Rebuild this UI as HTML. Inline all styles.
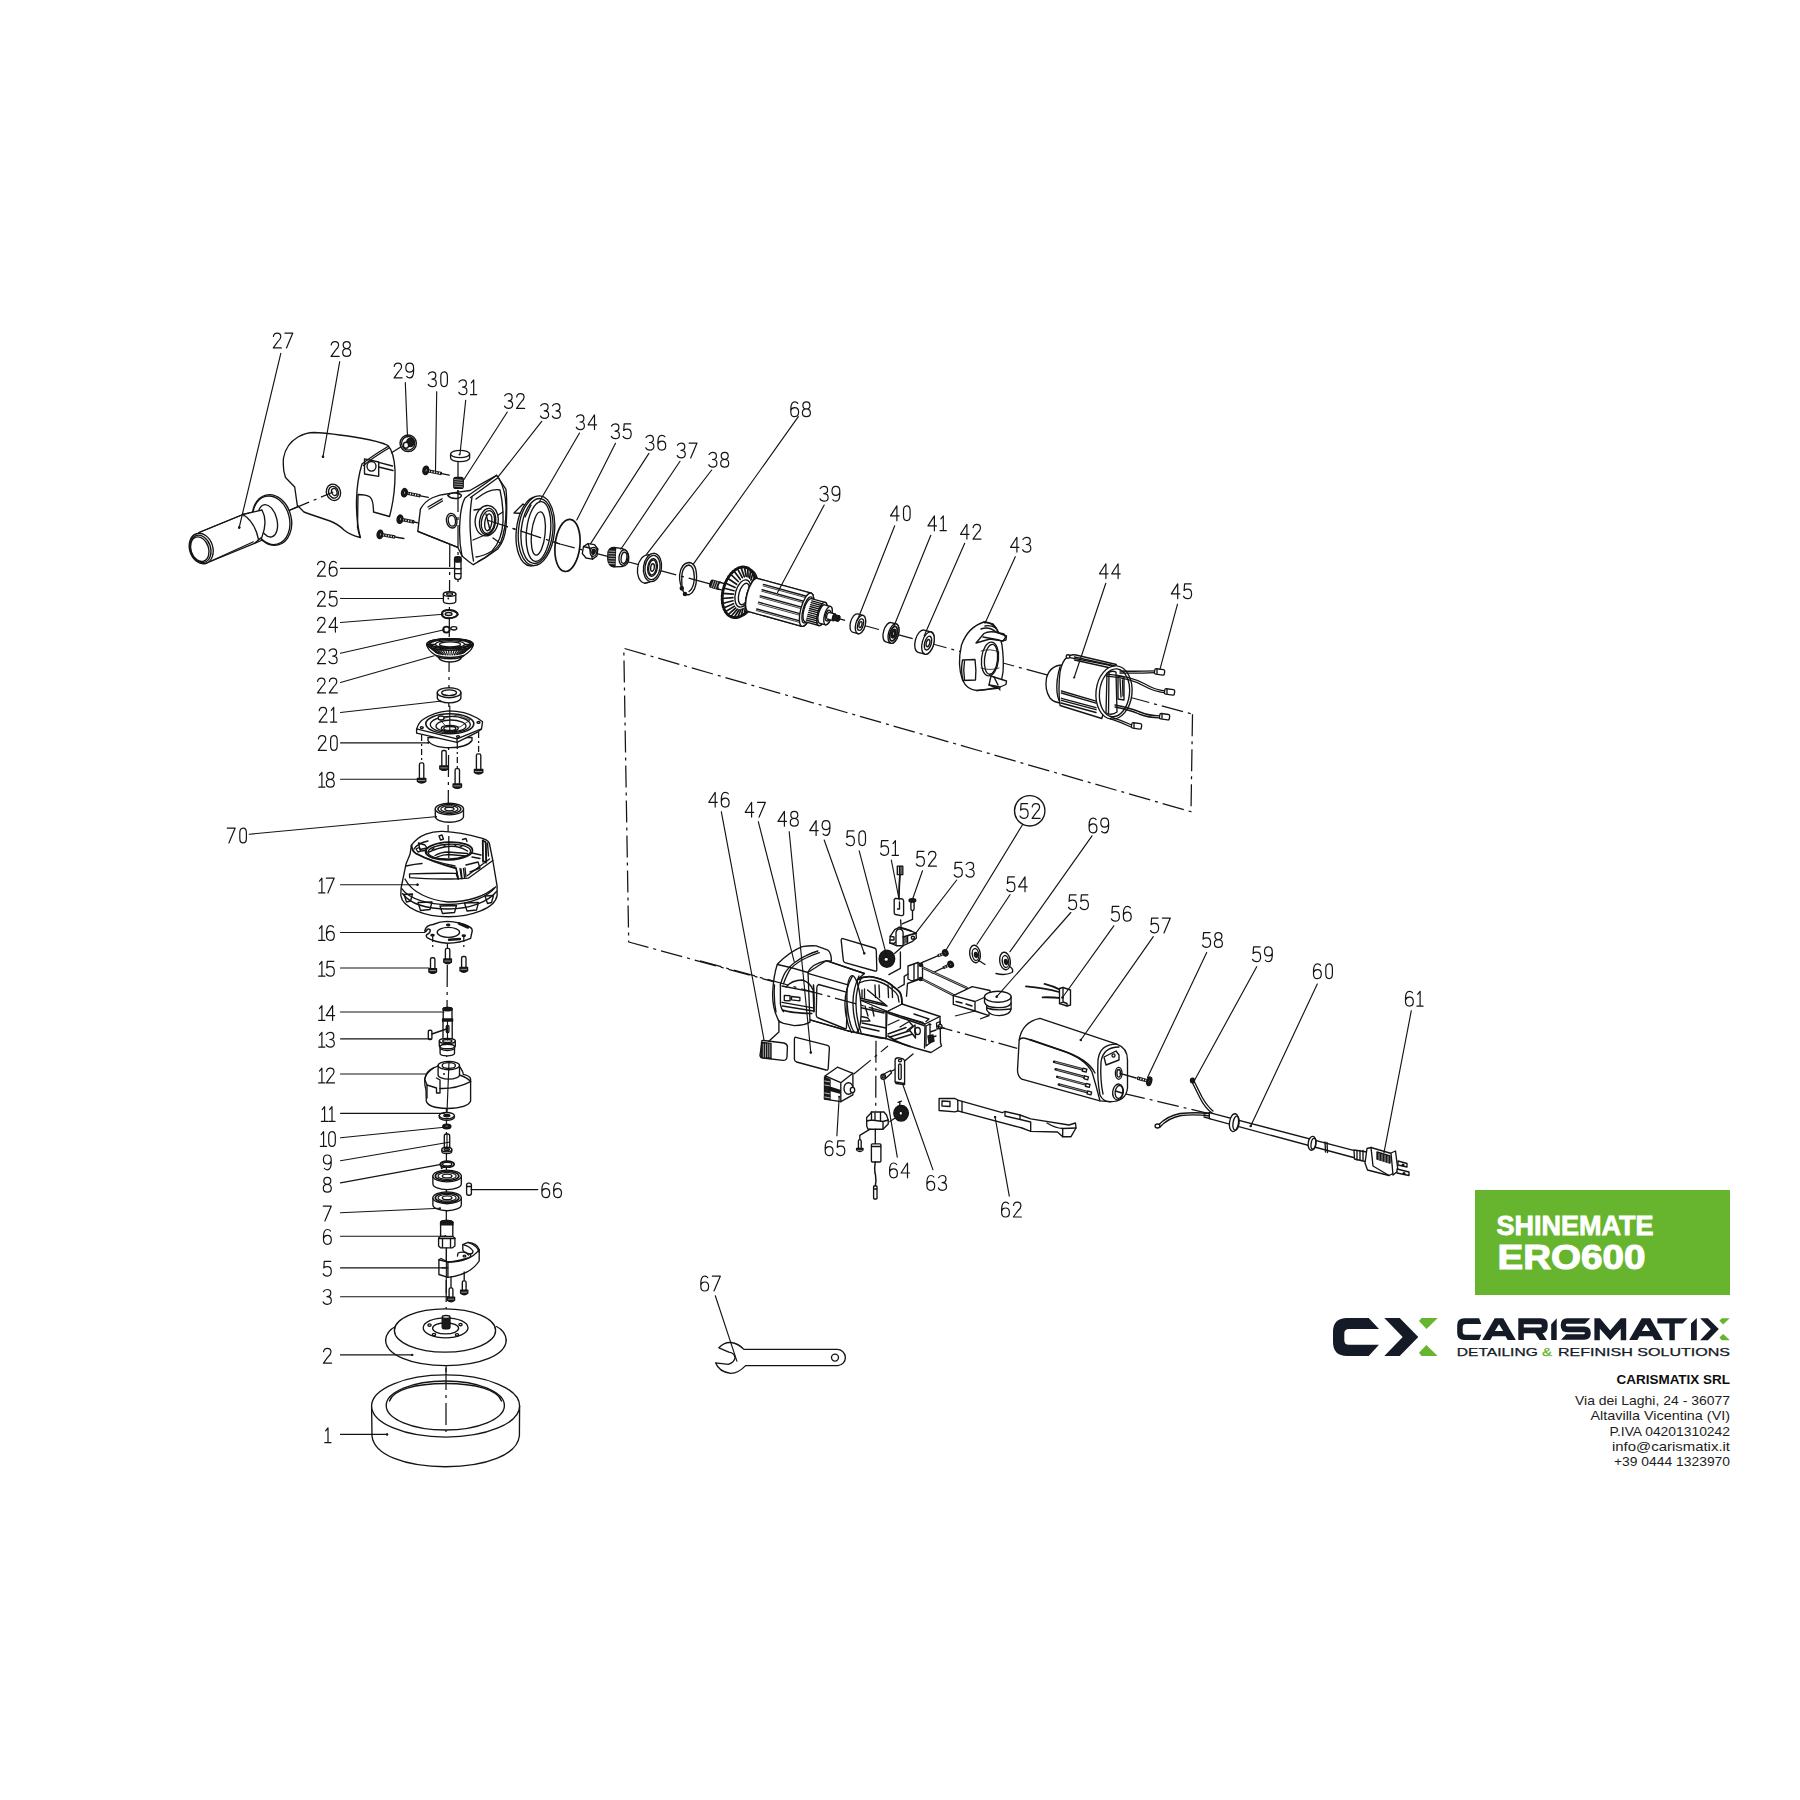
<!DOCTYPE html>
<html><head><meta charset="utf-8"><title>SHINEMATE ERO600 exploded view</title>
<style>
html,body{margin:0;padding:0;background:#fff;}
body{width:1800px;height:1800px;position:relative;overflow:hidden;font-family:"Liberation Sans",sans-serif;}
svg{position:absolute;left:0;top:0;}
.k{fill:#1a1a1a;stroke:none}
#dw line,#dw polyline,#dw path,#dw ellipse,#dw circle,#dw rect{stroke:#141414;stroke-width:1.35;fill:none;stroke-linecap:round;stroke-linejoin:round}
#dw .w{fill:#fff}
#dw .f{fill:#1a1a1a}
#dw .ax{stroke-width:1.25;stroke-dasharray:22 5 3 5;stroke-linecap:butt}
#dw .t{stroke-width:1.15}
#dw circle.k{stroke:none;fill:#1a1a1a}
#lb use{stroke:#141414;stroke-width:1.2;fill:none;stroke-linecap:round;stroke-linejoin:round}
.gb{position:absolute;left:1475px;top:1190px;width:255px;height:105px;background:#67b52e;}
.gb div{position:absolute;left:21px;color:#fff;font-weight:bold;white-space:nowrap;}
.addr{position:absolute;right:70px;top:1372px;text-align:right;color:#222;font-size:13px;line-height:15.3px;}
.addr b{display:block;color:#111;font-size:12.5px;margin-bottom:5px;letter-spacing:0.2px}
</style></head><body>

<svg width="1800" height="1800" viewBox="0 0 1800 1800" xmlns="http://www.w3.org/2000/svg">
<defs>
<path id="g0" d="M4.6,0.6 C2.4,0.6 1.3,2.4 1.3,5.2 V10.8 C1.3,13.6 2.4,15.4 4.6,15.4 C6.8,15.4 7.9,13.6 7.9,10.8 V5.2 C7.9,2.4 6.8,0.6 4.6,0.6 Z"/>
<path id="g1" d="M1.2,3.6 L3.6,0.6 V15.4 M0.4,15.4 H6.6"/>
<path id="g2" d="M0.9,3.9 C1.2,1.8 2.7,0.6 4.6,0.6 C6.8,0.6 8.3,2 8.3,4.3 C8.3,6.4 7.1,7.7 5.1,9.4 L0.8,15.4 H8.8"/>
<path id="g3" d="M0.7,2.8 C1.4,1.3 2.8,0.6 4.5,0.6 C6.8,0.6 8.1,2 8.1,4.2 C8.1,6.5 6.6,7.8 4.2,7.8 M4.2,7.8 C7,7.8 8.6,9.3 8.6,11.6 C8.6,14 7,15.4 4.5,15.4 C2.6,15.4 1.2,14.6 0.5,13"/>
<path id="g4" d="M6.9,15.4 V0.6 L0.5,10.6 H9"/>
<path id="g5" d="M8.1,0.6 H1.6 L1.1,7.2 C2,6.3 3.2,5.9 4.6,5.9 C7.2,5.9 8.6,7.8 8.6,10.6 C8.6,13.6 6.9,15.4 4.5,15.4 C2.6,15.4 1.2,14.6 0.5,13"/>
<path id="g6" d="M7.8,2.1 C7.1,1 6,0.6 4.8,0.6 C2.2,0.6 0.8,3 0.8,7.6 V10.6 C0.8,13.6 2.3,15.4 4.7,15.4 C7.1,15.4 8.6,13.6 8.6,10.8 C8.6,8 7.1,6.4 4.7,6.4 C2.6,6.4 1.3,7.6 0.8,9.4"/>
<path id="g7" d="M0.6,0.6 H8.5 L2.2,15.4"/>
<path id="g8" d="M4.6,7.6 C2.5,7.6 1.1,6.3 1.1,4.1 C1.1,1.9 2.5,0.6 4.6,0.6 C6.7,0.6 8.1,1.9 8.1,4.1 C8.1,6.3 6.7,7.6 4.6,7.6 Z M4.6,7.6 C2.1,7.6 0.6,9.1 0.6,11.5 C0.6,13.9 2.1,15.4 4.6,15.4 C7.1,15.4 8.6,13.9 8.6,11.5 C8.6,9.1 7.1,7.6 4.6,7.6 Z"/>
<path id="g9" d="M1.6,13.9 C2.3,15 3.3,15.4 4.5,15.4 C7.1,15.4 8.5,13 8.5,8.4 V5.4 C8.5,2.4 7,0.6 4.6,0.6 C2.2,0.6 0.7,2.4 0.7,5.2 C0.7,8 2.2,9.6 4.6,9.6 C6.7,9.6 8,8.4 8.5,6.6"/>
</defs>
<g id="dw">
<polyline points="487.0,520.0 560.0,544.0 610.0,557.0 853.0,622.5 1192.5,714.2" class="ax"/>
<polyline points="1192.5,714.2 1191.0,811.7 623.8,648.3 628.7,942.0 1017.2,1048.3" class="ax"/>
<polyline points="1123.3,1093.3 1208.0,1113.3" class="ax"/>
<polyline points="449.8,545.0 446.5,1100.0 446.0,1435.0" class="ax"/>
<polyline points="458.0,455.0 458.0,585.0" class="ax"/>
<polyline points="290.0,510.0 330.0,492.5" class="ax"/>
<path d="M199,532.5 L243,514.5 L258.5,539.5 L205.5,563.5 Z" class="w"/>
<path d="M199,532.5 L243,514.5"/>
<path d="M205.5,563.5 L254.5,543.3"/>
<path d="M243,514.5 Q255,522 258.5,539.5"/>
<path d="M243,514.5 L266,509 Q271,520 266,538.5 L254.5,543.3" class="w"/>
<ellipse cx="272.0" cy="520.0" rx="19.3" ry="25.7" transform="rotate(-14 272.0 520.0)" class="w"/>
<ellipse cx="271.3" cy="520.3" rx="18.2" ry="24.6" transform="rotate(-14 271.3 520.3)"/>
<ellipse cx="267.8" cy="520.8" rx="9.2" ry="16.5" transform="rotate(-14 267.8 520.8)" class="w"/>
<path d="M243,514.5 L262,510 Q268,521 262,537 L254.5,543.3" class="w"/>
<path d="M243,514.5 Q255,522 258.5,539.5"/>
<ellipse cx="201.2" cy="548.5" rx="11.6" ry="15.5" transform="rotate(-18 201.2 548.5)" class="w"/>
<ellipse cx="200.4" cy="548.9" rx="10.2" ry="14.0" transform="rotate(-18 200.4 548.9)"/>
<ellipse cx="199.8" cy="549.2" rx="8.8" ry="12.6" transform="rotate(-18 199.8 549.2)"/>
<circle cx="239.2" cy="527.5" r="1.2" class="k"/>
<path d="M297.3,505.3 L294.7,487 L285.5,477.5 Q282.5,470 283.5,458 Q286,444 298,437 Q306,432.5 314,432.5 Q330,433 360,438 Q380,441.5 388,445.5 Q394,452 395,470 Q395.5,495 389.5,516.5 L373.5,512 Q373.5,500 370,497 Q366,494.5 358,494.5 L357.5,527 Q358.5,533 360.3,537.5 Q350,535 344,530 Q338,524 330,521 Q312,515 304,512 Z" class="w"/>
<path d="M388,446.5 Q372,456 362,464 Q357,480 356.5,500 Q356,520 360.3,537.5"/>
<path d="M389,448 Q373,457.5 363.5,465.5"/>
<path d="M364.5,458.8 L378.7,462 L378.7,476.3 L364.5,474 Z"/>
<ellipse cx="371.5" cy="466.3" rx="4.5" ry="4.8"/>
<line x1="378.7" y1="462.3" x2="392.5" y2="466.0"/>
<line x1="378.7" y1="467.0" x2="393.0" y2="470.5"/>
<ellipse cx="333.5" cy="492.3" rx="7.0" ry="8.3" transform="rotate(-20 333.5 492.3)" class="w"/>
<ellipse cx="333.5" cy="492.3" rx="4.8" ry="6.0" transform="rotate(-20 333.5 492.3)"/>
<ellipse cx="334.3" cy="492.0" rx="2.6" ry="3.6" transform="rotate(-20 334.3 492.0)"/>
<circle cx="323.0" cy="456.7" r="1.2" class="k"/>
<line x1="401.5" y1="446.5" x2="391.5" y2="452.8"/>
<ellipse cx="408.2" cy="443.3" rx="8.2" ry="8.3" class="w"/>
<ellipse cx="408.2" cy="443.3" rx="6.6" ry="6.8"/>
<ellipse cx="410.3" cy="442.5" rx="3.6" ry="4.2" class="f"/>
<ellipse cx="406.0" cy="445.2" rx="2.6" ry="3.0" class="w"/>
<line x1="425.8" y1="470.4" x2="441.8" y2="473.6" style="stroke-width:3.4;stroke:#1a1a1a;stroke-linecap:butt"/>
<line x1="428.7" y1="471.0" x2="440.8" y2="473.4" style="stroke-width:1.6;stroke:#fff;stroke-dasharray:1.1 1.5;stroke-linecap:butt"/>
<line x1="441.8" y1="473.6" x2="449.2" y2="475.1"/>
<ellipse cx="425.8" cy="470.4" rx="2.9" ry="4.2" transform="rotate(11.30993247402037 425.8 470.4)" class="f"/>
<ellipse cx="426.1" cy="470.5" rx="1.0" ry="1.9" transform="rotate(11.30993247402037 426.1 470.5)" class="w"/>
<line x1="404.4" y1="492.7" x2="420.4" y2="495.8" style="stroke-width:3.4;stroke:#1a1a1a;stroke-linecap:butt"/>
<line x1="407.3" y1="493.3" x2="419.4" y2="495.6" style="stroke-width:1.6;stroke:#fff;stroke-dasharray:1.1 1.5;stroke-linecap:butt"/>
<line x1="420.4" y1="495.8" x2="428.3" y2="497.3"/>
<ellipse cx="404.4" cy="492.7" rx="2.9" ry="4.2" transform="rotate(10.965196685137991 404.4 492.7)" class="f"/>
<ellipse cx="404.7" cy="492.8" rx="1.0" ry="1.9" transform="rotate(10.965196685137991 404.7 492.8)" class="w"/>
<line x1="400.0" y1="519.2" x2="414.2" y2="522.0" style="stroke-width:3.4;stroke:#1a1a1a;stroke-linecap:butt"/>
<line x1="402.9" y1="519.8" x2="413.2" y2="521.8" style="stroke-width:1.6;stroke:#fff;stroke-dasharray:1.1 1.5;stroke-linecap:butt"/>
<line x1="414.2" y1="522.0" x2="418.1" y2="522.8"/>
<ellipse cx="400.0" cy="519.2" rx="2.9" ry="4.2" transform="rotate(11.15465973892813 400.0 519.2)" class="f"/>
<ellipse cx="400.3" cy="519.3" rx="1.0" ry="1.9" transform="rotate(11.15465973892813 400.3 519.3)" class="w"/>
<line x1="380.0" y1="534.4" x2="395.0" y2="537.0" style="stroke-width:3.4;stroke:#1a1a1a;stroke-linecap:butt"/>
<line x1="383.0" y1="534.9" x2="394.0" y2="536.8" style="stroke-width:1.6;stroke:#fff;stroke-dasharray:1.1 1.5;stroke-linecap:butt"/>
<line x1="395.0" y1="537.0" x2="403.9" y2="538.5"/>
<ellipse cx="380.0" cy="534.4" rx="2.9" ry="4.2" transform="rotate(9.8335639642072 380.0 534.4)" class="f"/>
<ellipse cx="380.3" cy="534.5" rx="1.0" ry="1.9" transform="rotate(9.8335639642072 380.3 534.5)" class="w"/>
<path d="M450.6,454 L450.6,458 A9.5,3.6 0 0 0 469.6,458 L469.6,454" class="w"/>
<ellipse cx="460.1" cy="454.0" rx="9.5" ry="3.6" class="w"/>
<circle cx="459.5" cy="454.5" r="0.9" class="k"/>
<rect x="453.8" y="477.4" width="9.4" height="11" rx="2" class="f"/>
<line x1="454.5" y1="479.5" x2="462.5" y2="480.3" style="stroke:#fff;stroke-width:0.5"/>
<line x1="454.5" y1="481.7" x2="462.5" y2="482.5" style="stroke:#fff;stroke-width:0.5"/>
<line x1="454.5" y1="483.9" x2="462.5" y2="484.7" style="stroke:#fff;stroke-width:0.5"/>
<line x1="454.5" y1="486.1" x2="462.5" y2="486.90000000000003" style="stroke:#fff;stroke-width:0.5"/>
<path d="M417.8,531.3 L420.4,509.1 Q425,501 433,497.5 Q440,494.5 446.5,494 Q458,492 470,490.5 Q484,482 496.7,475.3 L506,489.3 Q507.5,506 506,526.7 Q505,540 498,548.7 Q486,558 473.3,564.7 L469.3,562 L462,556 L457.8,547.3 Z" class="w"/>
<path d="M457.8,547.3 L417.8,531.3"/>
<path d="M462,556 Q458.5,540 460,520 Q461,505 465,498 L469.3,494.7"/>
<path d="M469.3,494.7 Q484,485 496.7,475.3"/>
<path d="M470.5,497.5 Q484,488 497.5,478"/>
<path d="M472,497 Q469,515 470.5,535 Q471.5,550 473.5,561"/>
<path d="M499,478.5 Q505.5,490 506,506 Q506.5,528 500.5,543 Q494,553 478,561.5"/>
<path d="M476,499 Q490,488 500,490 Q503.5,505 503,522 Q502,540 492,551 Q484,556 476,557"/>
<ellipse cx="486.7" cy="520.7" rx="11.5" ry="15.3" transform="rotate(8 486.7 520.7)" class="w"/>
<ellipse cx="487.6" cy="521.5" rx="8.0" ry="13.2" transform="rotate(8 487.6 521.5)"/>
<ellipse cx="488.0" cy="522.0" rx="6.6" ry="11.5" transform="rotate(8 488.0 522.0)"/>
<ellipse cx="488.3" cy="522.3" rx="3.5" ry="8.5" transform="rotate(8 488.3 522.3)"/>
<line x1="486.0" y1="514.0" x2="490.0" y2="530.0"/>
<line x1="473.0" y1="540.0" x2="486.0" y2="534.5"/>
<line x1="474.0" y1="510.0" x2="481.0" y2="509.0"/>
<line x1="498.0" y1="515.0" x2="503.0" y2="512.0"/>
<line x1="493.0" y1="538.0" x2="500.0" y2="543.0"/>
<path d="M447.7,495.5 Q451,492.2 456,493 Q465,494.8 459,498 Q452,499.8 447.7,495.5 Z"/>
<ellipse cx="451.7" cy="520.7" rx="5.2" ry="7.4" transform="rotate(-10 451.7 520.7)" class="w"/>
<ellipse cx="451.9" cy="520.8" rx="3.6" ry="5.4" transform="rotate(-10 451.9 520.8)"/>
<path d="M428,507 L442,498.8"/>
<path d="M429,509 L442.5,501"/>
<path d="M514,513 L523,504 L527,506.5 L524,513.5 Z" class="w"/>
<ellipse cx="533.5" cy="531.5" rx="17.2" ry="34.6" transform="rotate(6 533.5 531.5)" class="w"/>
<ellipse cx="536.5" cy="530.7" rx="18.0" ry="35.0" transform="rotate(6 536.5 530.7)" class="w"/>
<ellipse cx="537.0" cy="531.0" rx="15.8" ry="32.6" transform="rotate(6 537.0 531.0)"/>
<ellipse cx="538.5" cy="531.5" rx="12.0" ry="30.0" transform="rotate(6 538.5 531.5)"/>
<ellipse cx="538.3" cy="533.5" rx="6.8" ry="21.8" transform="rotate(6 538.3 533.5)"/>
<line x1="525.0" y1="517.0" x2="531.0" y2="505.0"/>
<ellipse cx="567.5" cy="545.4" rx="12.4" ry="26.2" transform="rotate(6 567.5 545.4)" style="stroke-width:1.7"/>
<path d="M583.5,546.5 L588,543.6 L594.5,544.6 L597.8,549 L597,556 L592.5,559.1 L586,558 L582.3,553.5 Z" class="w"/>
<path d="M588,543.6 L589.5,548 L592.5,559.1"/>
<path d="M583.5,546.5 L589.5,548 L597.8,549"/>
<ellipse cx="593.5" cy="551.8" rx="3.3" ry="4.5" transform="rotate(10 593.5 551.8)" class="w"/>
<ellipse cx="593.5" cy="551.8" rx="1.7" ry="2.6" transform="rotate(10 593.5 551.8)" class="f"/>
<path d="M608,552 Q609.5,547.5 614,547.5 L621.5,548.3 Q628.8,550 628.8,557.5 Q628.8,566 622,566.5 L614,566.8 Q608,566 607.7,558.5 Z" class="w"/>
<path d="M609,551 Q610,548.5 613,548.3 L615.5,548.5 L615,566.5 L612.5,566.5 Q609,565.5 608.8,559 Z" class="f"/>
<line x1="609" y1="551" x2="615" y2="551.3" style="stroke:#fff;stroke-width:0.6"/>
<line x1="609" y1="553.5" x2="615" y2="553.8" style="stroke:#fff;stroke-width:0.6"/>
<line x1="609" y1="556" x2="615" y2="556.3" style="stroke:#fff;stroke-width:0.6"/>
<line x1="609" y1="558.5" x2="615" y2="558.8" style="stroke:#fff;stroke-width:0.6"/>
<line x1="609" y1="561" x2="615" y2="561.3" style="stroke:#fff;stroke-width:0.6"/>
<line x1="609" y1="563.5" x2="615" y2="563.8" style="stroke:#fff;stroke-width:0.6"/>
<ellipse cx="623.5" cy="557.5" rx="4.5" ry="7.8" transform="rotate(8 623.5 557.5)" class="w"/>
<ellipse cx="624.0" cy="557.8" rx="2.8" ry="5.6" transform="rotate(8 624.0 557.8)"/>
<ellipse cx="646.5" cy="569.0" rx="9.0" ry="14.2" transform="rotate(8 646.5 569.0)" class="w"/>
<path d="M648.5,554.9 L654.5,553.4 L650.5,581.6 L644.5,583.1 Z" class="w" style="stroke:none"/>
<line x1="648.5" y1="554.9" x2="654.5" y2="553.4"/>
<line x1="644.5" y1="583.1" x2="650.5" y2="581.6"/>
<ellipse cx="652.5" cy="567.5" rx="9.0" ry="14.2" transform="rotate(8 652.5 567.5)" class="w"/>
<ellipse cx="652.5" cy="567.5" rx="7.5" ry="12.2" transform="rotate(8 652.5 567.5)"/>
<ellipse cx="652.5" cy="567.5" rx="4.8" ry="8.8" transform="rotate(8 652.5 567.5)" class="w"/>
<ellipse cx="652.5" cy="567.5" rx="3.8" ry="7.4" transform="rotate(8 652.5 567.5)"/>
<ellipse cx="652.5" cy="567.5" rx="1.8" ry="3.8" transform="rotate(8 652.5 567.5)"/>
<path d="M683.5,592 Q679,583 679.6,575 Q681,563 689,562.5 Q696.5,563 696.6,577 Q696.4,591 689.5,594.5 Q686,595.5 684.5,593"/>
<path d="M682,587 Q681.5,580 682,574 Q683.5,565.5 689,565 Q694,566 694.3,577 Q694.2,588 689,591.5"/>
<ellipse cx="681.8" cy="588.3" rx="1.6" ry="1.7" class="f"/>
<ellipse cx="685.0" cy="594.0" rx="1.6" ry="1.6" class="f"/>
<path d="M712.5,580.1 L720.5,582.3 A1.4,3.6 15.4 0 1 718.5,589.3 L710.5,587.1 A1.4,3.6 15.4 0 1 712.5,580.1 Z" class="f"/>
<ellipse cx="719.5" cy="585.8" rx="1.4" ry="3.6" transform="rotate(15.37625124882619 719.5 585.8)" class="f"/>
<line x1="713.8" y1="580.9" x2="711.6" y2="587.1" style="stroke:#fff;stroke-width:0.6"/>
<line x1="715.8" y1="581.5" x2="713.6" y2="587.6" style="stroke:#fff;stroke-width:0.6"/>
<line x1="717.8" y1="582.0" x2="715.6" y2="588.2" style="stroke:#fff;stroke-width:0.6"/>
<path d="M720.4,582.5 L727.9,584.6 A1.4,3.4 15.4 0 1 726.1,591.1 L718.6,589.1 A1.4,3.4 15.4 0 1 720.4,582.5 Z" class="w"/>
<ellipse cx="727.0" cy="587.9" rx="1.4" ry="3.4" transform="rotate(15.37625124882619 727.0 587.9)" class="w"/>
<ellipse cx="743.2" cy="592.8" rx="14.0" ry="24.5" transform="rotate(15.37625124882619 743.2 592.8)" class="w"/>
<ellipse cx="739.2" cy="592.3" rx="16.3" ry="26.0" transform="rotate(15.37625124882619 739.2 592.3)" class="w"/>
<line x1="754.9" y1="596.6" x2="751.4" y2="595.5" style="stroke-width:1.7"/>
<line x1="753.1" y1="601.7" x2="750.3" y2="598.8" style="stroke-width:1.7"/>
<line x1="750.8" y1="606.4" x2="748.8" y2="601.9" style="stroke-width:1.7"/>
<line x1="747.9" y1="610.5" x2="747.1" y2="604.7" style="stroke-width:1.7"/>
<line x1="744.6" y1="613.8" x2="745.2" y2="606.9" style="stroke-width:1.7"/>
<line x1="741.1" y1="616.2" x2="743.1" y2="608.5" style="stroke-width:1.7"/>
<line x1="737.5" y1="617.5" x2="741.1" y2="609.4" style="stroke-width:1.7"/>
<line x1="734.0" y1="617.7" x2="739.1" y2="609.7" style="stroke-width:1.7"/>
<line x1="730.7" y1="616.8" x2="737.3" y2="609.2" style="stroke-width:1.7"/>
<line x1="727.8" y1="614.8" x2="735.7" y2="608.0" style="stroke-width:1.7"/>
<line x1="725.4" y1="611.8" x2="734.5" y2="606.1" style="stroke-width:1.7"/>
<line x1="723.6" y1="608.0" x2="733.5" y2="603.7" style="stroke-width:1.7"/>
<line x1="722.4" y1="603.5" x2="733.0" y2="600.8" style="stroke-width:1.7"/>
<line x1="722.0" y1="598.5" x2="732.9" y2="597.6" style="stroke-width:1.7"/>
<line x1="722.4" y1="593.3" x2="733.3" y2="594.2" style="stroke-width:1.7"/>
<line x1="723.5" y1="588.0" x2="734.0" y2="590.7" style="stroke-width:1.7"/>
<line x1="725.3" y1="582.9" x2="735.1" y2="587.4" style="stroke-width:1.7"/>
<line x1="727.6" y1="578.2" x2="736.6" y2="584.3" style="stroke-width:1.7"/>
<line x1="730.5" y1="574.1" x2="738.3" y2="581.5" style="stroke-width:1.7"/>
<line x1="733.8" y1="570.8" x2="740.2" y2="579.3" style="stroke-width:1.7"/>
<line x1="737.3" y1="568.4" x2="742.3" y2="577.7" style="stroke-width:1.7"/>
<line x1="740.9" y1="567.1" x2="744.3" y2="576.8" style="stroke-width:1.7"/>
<line x1="744.4" y1="566.9" x2="746.3" y2="576.5" style="stroke-width:1.7"/>
<line x1="747.7" y1="567.8" x2="748.1" y2="577.0" style="stroke-width:1.7"/>
<line x1="750.6" y1="569.8" x2="749.7" y2="578.2" style="stroke-width:1.7"/>
<line x1="753.0" y1="572.8" x2="750.9" y2="580.1" style="stroke-width:1.7"/>
<line x1="754.8" y1="576.6" x2="751.9" y2="582.5" style="stroke-width:1.7"/>
<line x1="756.0" y1="581.1" x2="752.4" y2="585.4" style="stroke-width:1.7"/>
<line x1="756.4" y1="586.1" x2="752.5" y2="588.6" style="stroke-width:1.7"/>
<line x1="756.0" y1="591.3" x2="752.1" y2="592.0" style="stroke-width:1.7"/>
<ellipse cx="739.2" cy="592.3" rx="16.3" ry="26.0" transform="rotate(15.37625124882619 739.2 592.3)" style="stroke-width:2.6;stroke-dasharray:2 1.4"/>
<ellipse cx="739.2" cy="592.3" rx="15.5" ry="25.2" transform="rotate(15.37625124882619 739.2 592.3)"/>
<ellipse cx="743.0" cy="593.5" rx="7.5" ry="14.0" transform="rotate(15.37625124882619 743.0 593.5)" class="w"/>
<ellipse cx="744.0" cy="594.0" rx="5.0" ry="11.0" transform="rotate(15.37625124882619 744.0 594.0)"/>
<path d="M757.1,578.3 L811.1,593.1 A5.7,17.2 15.4 0 1 801.9,626.3 L747.9,611.4 A5.7,17.2 15.4 0 1 757.1,578.3 Z" class="w"/>
<ellipse cx="806.5" cy="609.7" rx="5.7" ry="17.2" transform="rotate(15.37625124882619 806.5 609.7)" class="w"/>
<ellipse cx="752.5" cy="594.9" rx="5.7" ry="17.2" transform="rotate(15.37625124882619 752.5 594.9)" class="w"/>
<path d="M757.1,578.3 L811.1,593.1 A5.7,17.2 15.4 0 1 801.9,626.3 L747.9,611.4 A5.7,17.2 15.4 0 1 757.1,578.3 Z" class="w"/>
<line x1="763.4" y1="584.4" x2="807.4" y2="596.5"/>
<line x1="763.0" y1="585.9" x2="807.0" y2="598.0" style="stroke-width:0.8"/>
<line x1="762.0" y1="589.7" x2="806.0" y2="601.8"/>
<line x1="761.6" y1="591.2" x2="805.6" y2="603.3" style="stroke-width:0.8"/>
<line x1="760.3" y1="595.8" x2="804.3" y2="607.9"/>
<line x1="759.9" y1="597.3" x2="803.9" y2="609.4" style="stroke-width:0.8"/>
<line x1="758.5" y1="602.2" x2="802.5" y2="614.3"/>
<line x1="758.1" y1="603.8" x2="802.1" y2="615.9" style="stroke-width:0.8"/>
<line x1="756.7" y1="609.0" x2="800.7" y2="621.1"/>
<line x1="756.3" y1="610.5" x2="800.3" y2="622.6" style="stroke-width:0.8"/>
<ellipse cx="806.5" cy="609.7" rx="5.7" ry="17.2" transform="rotate(15.37625124882619 806.5 609.7)" class="w"/>
<ellipse cx="807.3" cy="609.9" rx="4.2" ry="13.5" transform="rotate(15.37625124882619 807.3 609.9)"/>
<path d="M811.2,598.6 L825.2,602.4 A4.3,12.0 15.4 0 1 818.8,625.5 L804.8,621.7 A4.3,12.0 15.4 0 1 811.2,598.6 Z" class="w"/>
<ellipse cx="822.0" cy="614.0" rx="4.3" ry="12.0" transform="rotate(15.37625124882619 822.0 614.0)" class="w"/>
<line x1="811.7" y1="600.8" x2="823.7" y2="604.1" style="stroke-width:1.3"/>
<line x1="811.1" y1="602.7" x2="823.1" y2="606.0" style="stroke-width:1.3"/>
<line x1="810.6" y1="604.6" x2="822.6" y2="607.9" style="stroke-width:1.3"/>
<line x1="810.1" y1="606.5" x2="822.1" y2="609.8" style="stroke-width:1.3"/>
<line x1="809.5" y1="608.5" x2="821.5" y2="611.8" style="stroke-width:1.3"/>
<line x1="809.0" y1="610.4" x2="821.0" y2="613.7" style="stroke-width:1.3"/>
<line x1="808.5" y1="612.3" x2="820.5" y2="615.6" style="stroke-width:1.3"/>
<line x1="807.9" y1="614.3" x2="819.9" y2="617.6" style="stroke-width:1.3"/>
<line x1="807.4" y1="616.2" x2="819.4" y2="619.5" style="stroke-width:1.3"/>
<line x1="806.9" y1="618.1" x2="818.9" y2="621.4" style="stroke-width:1.3"/>
<line x1="806.3" y1="620.0" x2="818.3" y2="623.3" style="stroke-width:1.3"/>
<ellipse cx="822.0" cy="614.0" rx="4.3" ry="12.0" transform="rotate(15.37625124882619 822.0 614.0)" class="w"/>
<path d="M824.5,604.8 L830.5,606.5 A3.6,9.5 15.4 0 1 825.5,624.8 L819.5,623.1 A3.6,9.5 15.4 0 1 824.5,604.8 Z" class="w"/>
<ellipse cx="828.0" cy="615.6" rx="3.6" ry="9.5" transform="rotate(15.37625124882619 828.0 615.6)" class="w"/>
<ellipse cx="828.0" cy="615.6" rx="2.4" ry="5.5" transform="rotate(15.37625124882619 828.0 615.6)"/>
<path d="M828.9,612.3 L834.9,613.9 A1.4,3.5 15.4 0 1 833.1,620.6 L827.1,619.0 A1.4,3.5 15.4 0 1 828.9,612.3 Z" class="w"/>
<ellipse cx="834.0" cy="617.3" rx="1.4" ry="3.5" transform="rotate(15.37625124882619 834.0 617.3)" class="w"/>
<path d="M834.7,614.6 L839.2,615.8 A1.1,2.8 15.4 0 1 837.8,621.2 L833.3,620.0 A1.1,2.8 15.4 0 1 834.7,614.6 Z" class="f"/>
<ellipse cx="838.5" cy="618.5" rx="1.1" ry="2.8" transform="rotate(15.37625124882619 838.5 618.5)" class="f"/>
<path d="M857.5,613.9 L863.0,615.4 A4.8,9.5 15.4 0 1 858.0,633.7 L852.5,632.2 A4.8,9.5 15.4 0 1 857.5,613.9 Z" class="w"/>
<ellipse cx="860.5" cy="624.6" rx="4.8" ry="9.5" transform="rotate(15.37625124882619 860.5 624.6)" class="w"/>
<ellipse cx="860.5" cy="624.6" rx="2.7" ry="5.9" transform="rotate(15.37625124882619 860.5 624.6)"/>
<ellipse cx="860.5" cy="624.6" rx="1.4" ry="3.0" transform="rotate(15.37625124882619 860.5 624.6)"/>
<path d="M891.2,622.6 L896.2,624.0 A5.0,10.0 15.4 0 1 890.8,643.3 L885.8,641.9 A5.0,10.0 15.4 0 1 891.2,622.6 Z" class="w"/>
<ellipse cx="893.5" cy="633.6" rx="5.0" ry="10.0" transform="rotate(15.37625124882619 893.5 633.6)" class="w"/>
<ellipse cx="893.5" cy="633.6" rx="3.5" ry="7.5" transform="rotate(15.37625124882619 893.5 633.6)" style="stroke-width:1.8"/>
<ellipse cx="893.5" cy="633.6" rx="2.2" ry="4.5" transform="rotate(15.37625124882619 893.5 633.6)" class="f"/>
<ellipse cx="893.5" cy="633.6" rx="1.0" ry="2.0" transform="rotate(15.37625124882619 893.5 633.6)" class="w"/>
<path d="M924.0,630.1 L931.0,632.0 A5.8,11.5 15.4 0 1 925.0,654.2 L918.0,652.3 A5.8,11.5 15.4 0 1 924.0,630.1 Z" class="w"/>
<ellipse cx="928.0" cy="643.1" rx="5.8" ry="11.5" transform="rotate(15.37625124882619 928.0 643.1)" class="w"/>
<ellipse cx="928.0" cy="643.1" rx="3.3" ry="7.1" transform="rotate(15.37625124882619 928.0 643.1)"/>
<ellipse cx="928.0" cy="643.1" rx="1.7" ry="3.7" transform="rotate(15.37625124882619 928.0 643.1)"/>
<path d="M984,622 Q968,627 961.5,645 Q957,665 962.5,680 Q967,690 977,690.5 L1000,688 L1003,672 Q1004,660 1002,645 Q999,630 993,624 Z" class="w"/>
<path d="M984,622 Q995,622 1000,636"/>
<path d="M977,690.5 Q990,690 999,686"/>
<ellipse cx="990.0" cy="659.0" rx="8.5" ry="17.0" transform="rotate(6 990.0 659.0)" class="w"/>
<ellipse cx="991.0" cy="659.3" rx="6.5" ry="15.0" transform="rotate(6 991.0 659.3)"/>
<path d="M981,651 Q990,648 999,652 M981,668 Q990,671 999,668" style="stroke-width:0.8"/>
<path d="M976,643 L990,639 L1003,641 L1005.5,637.5 L1004,634 L995,632 Q988,631 984,633.5 Z" class="w"/>
<path d="M981,629 Q989,626 996,632 L1006.5,636 L1006,640 L1002,641"/>
<path d="M985,626 Q991,624.5 996.5,628.5"/>
<path d="M983,637 L999,640"/>
<path d="M991,676 L997,678 L1006.5,681 L1006,684.5 L1000,687 L995,686 L989,685 Z" class="w"/>
<path d="M989,685 L999,688.5 L1000,690"/>
<path d="M994,677 L998,685"/>
<path d="M962.5,660 L975,659.5 Q976.5,670 975.5,680 L963,680.5 Q960.5,670 962.5,660 Z"/>
<path d="M964.5,661 Q963,670 964.5,679.5"/>
<path d="M1063,665 Q1050,665 1046.5,678 Q1044.5,690 1050,698 Q1054,703 1063,703 Z" class="w"/>
<path d="M1060,667 Q1056,680 1057,692 Q1058,700 1061,704"/>
<path d="M1067.2,657.1 L1116.3,666.5 L1101.8,718.5 L1060,705.5 Q1058,690 1060,672 Q1062,661 1067.2,657.1 Z" class="w"/>
<path d="M1067.2,657.1 Q1071,654 1076,655 L1116.3,664.5"/>
<path d="M1074.4,657 L1114.9,665.8 M1074.5,660 L1113,668.5"/>
<ellipse cx="1068.0" cy="656.5" rx="1.8" ry="1.8" class="w"/>
<line x1="1061.4" y1="691.0" x2="1096.0" y2="701.2"/>
<line x1="1061.4" y1="693.0" x2="1096.0" y2="703.2"/>
<line x1="1061.4" y1="698.3" x2="1096.0" y2="707.7"/>
<line x1="1061.4" y1="700.3" x2="1096.0" y2="709.7"/>
<path d="M1061,703 L1096,712.5"/>
<circle cx="1074.2" cy="677.5" r="1.1" class="k"/>
<ellipse cx="1114.0" cy="692.5" rx="18.0" ry="26.7" transform="rotate(6 1114.0 692.5)" class="w"/>
<ellipse cx="1114.5" cy="692.8" rx="15.0" ry="24.0" transform="rotate(6 1114.5 692.8)"/>
<path d="M1107,673 Q1112,670 1116,672 L1117,712 Q1112,716 1106,713 Z" class="w"/>
<path d="M1118,676 L1124,677 L1124,700 L1118,699 Z"/>
<path d="M1120,679 L1121,697 M1122.5,680 L1123,696"/>
<path d="M1109,672 L1108.5,714"/>
<path d="M1120,671 Q1135,671.5 1155,670.8"/>
<path d="M1120,673 Q1135,673.5 1155,672.6"/>
<path d="M1106.7,674.2 Q1130,676 1145,684 Q1155,690 1165,690.8"/>
<path d="M1106.7,676.2 Q1130,678 1144,686 Q1154,691.5 1165,692.8"/>
<path d="M1115,705 Q1130,708 1140,712 Q1150,716 1160,715.8"/>
<path d="M1115,707 Q1130,710 1139,714 Q1150,718 1160,717.8"/>
<path d="M1110,716.7 Q1120,720 1131.7,725"/>
<path d="M1110,718.7 Q1120,722 1131,727"/>
<rect x="1155" y="668.5" width="10" height="5.5" rx="1.5" class="w" transform="rotate(8 1155 668.5)"/>
<line x1="1157.0" y1="669.1" x2="1157.0" y2="673.5"/>
<rect x="1165" y="688.5" width="10" height="5.5" rx="1.5" class="w" transform="rotate(8 1165 688.5)"/>
<line x1="1167.0" y1="689.1" x2="1167.0" y2="693.5"/>
<rect x="1160" y="713.3" width="10" height="5.5" rx="1.5" class="w" transform="rotate(8 1160 713.3)"/>
<line x1="1162.0" y1="713.9" x2="1162.0" y2="718.3"/>
<rect x="1132" y="722.5" width="10" height="5.5" rx="1.5" class="w" transform="rotate(8 1132 722.5)"/>
<line x1="1134.0" y1="723.1" x2="1134.0" y2="727.5"/>
<rect x="454.6" y="557" width="6.4" height="22.3" rx="2.5" class="w"/>
<rect x="454.6" y="557" width="6.4" height="5" rx="1.5" class="f"/>
<line x1="454.6" y1="568.7" x2="461.0" y2="568.7"/>
<line x1="454.6" y1="573.6" x2="461.0" y2="573.6"/>
<path d="M443.4,594.0 L443.4,601.3 A6.2,2.3 0 0 0 455.8,601.3 L455.8,594.0 Z" class="w"/>
<ellipse cx="449.6" cy="594.0" rx="6.2" ry="2.3" class="w"/>
<ellipse cx="449.6" cy="594.0" rx="3.0" ry="1.2"/>
<circle cx="448.3" cy="598.5" r="0.9" class="k"/>
<path d="M442,614 Q442,610.3 449,610.2 Q454,610.2 457,613 L457.5,614.5 L455.5,616.5 Q452,618.3 448,618 Q442,617.5 442,614 Z" class="w"/>
<path d="M441.8,614 Q441.8,610 449,610 Q454.3,610 457.2,612.8 L457.9,614.6 L455.6,616.8 Q452,618.6 448,618.3 Q441.8,617.8 441.8,614 Z" style="stroke-width:1.8"/>
<ellipse cx="448.6" cy="614.0" rx="3.4" ry="1.5" class="w"/>
<ellipse cx="446.4" cy="629.6" rx="3.2" ry="3.0" class="w" style="stroke-width:1.9"/>
<ellipse cx="453.8" cy="628.3" rx="3.0" ry="1.7"/>
<path d="M426.8,644.5 Q427,650 436,655.5 L438.5,657.5 Q440,661.5 450,662 Q460,661.5 461.5,657.5 L464,655.5 Q473,650 473.2,644.5 Z" class="w"/>
<path d="M426.8,644.5 Q426.8,638.6 450,638.6 Q473.2,638.6 473.2,644.5"/>
<ellipse cx="450.0" cy="644.5" rx="23.2" ry="5.8" style="stroke-width:1.6"/>
<ellipse cx="450.0" cy="643.8" rx="20.5" ry="4.6" style="stroke-width:2.4;stroke-dasharray:1.1 1.4"/>
<ellipse cx="450.0" cy="644.2" rx="14.5" ry="3.6" class="w"/>
<ellipse cx="450.0" cy="644.4" rx="10.5" ry="2.6"/>
<line x1="428.0" y1="645.0" x2="436.0" y2="652.0" style="stroke-width:1.2"/>
<line x1="428.2" y1="645.7" x2="436.1" y2="652.4" style="stroke-width:1.2"/>
<line x1="428.7" y1="646.4" x2="436.4" y2="652.7" style="stroke-width:1.2"/>
<line x1="429.5" y1="647.0" x2="437.0" y2="653.1" style="stroke-width:1.2"/>
<line x1="430.7" y1="647.6" x2="437.7" y2="653.4" style="stroke-width:1.2"/>
<line x1="432.2" y1="648.2" x2="438.7" y2="653.8" style="stroke-width:1.2"/>
<line x1="434.0" y1="648.8" x2="439.8" y2="654.1" style="stroke-width:1.2"/>
<line x1="436.0" y1="649.2" x2="441.1" y2="654.3" style="stroke-width:1.2"/>
<line x1="438.2" y1="649.6" x2="442.5" y2="654.5" style="stroke-width:1.2"/>
<line x1="440.6" y1="650.0" x2="444.0" y2="654.7" style="stroke-width:1.2"/>
<line x1="443.2" y1="650.2" x2="445.7" y2="654.9" style="stroke-width:1.2"/>
<line x1="445.9" y1="650.4" x2="447.4" y2="654.9" style="stroke-width:1.2"/>
<line x1="448.6" y1="650.5" x2="449.1" y2="655.0" style="stroke-width:1.2"/>
<line x1="451.4" y1="650.5" x2="450.9" y2="655.0" style="stroke-width:1.2"/>
<line x1="454.1" y1="650.4" x2="452.6" y2="654.9" style="stroke-width:1.2"/>
<line x1="456.8" y1="650.2" x2="454.3" y2="654.9" style="stroke-width:1.2"/>
<line x1="459.4" y1="650.0" x2="456.0" y2="654.7" style="stroke-width:1.2"/>
<line x1="461.8" y1="649.6" x2="457.5" y2="654.5" style="stroke-width:1.2"/>
<line x1="464.0" y1="649.2" x2="458.9" y2="654.3" style="stroke-width:1.2"/>
<line x1="466.0" y1="648.8" x2="460.2" y2="654.1" style="stroke-width:1.2"/>
<line x1="467.8" y1="648.2" x2="461.3" y2="653.8" style="stroke-width:1.2"/>
<line x1="469.3" y1="647.6" x2="462.3" y2="653.4" style="stroke-width:1.2"/>
<line x1="470.5" y1="647.0" x2="463.0" y2="653.1" style="stroke-width:1.2"/>
<line x1="471.3" y1="646.4" x2="463.6" y2="652.7" style="stroke-width:1.2"/>
<line x1="471.8" y1="645.7" x2="463.9" y2="652.4" style="stroke-width:1.2"/>
<line x1="472.0" y1="645.0" x2="464.0" y2="652.0" style="stroke-width:1.2"/>
<path d="M436,655.5 Q450,659.5 464,655.5"/>
<path d="M439,657.5 Q450,660 461,657.5"/>
<path d="M437.3,692.7 L437.3,697.8 A11.8,5.0 0 0 0 460.9,697.8 L460.9,692.7 Z" class="w"/>
<ellipse cx="449.1" cy="692.7" rx="11.8" ry="5.0" class="w"/>
<ellipse cx="449.1" cy="692.7" rx="7.4" ry="2.9" class="w"/>
<circle cx="440.5" cy="701.3" r="1.0" class="k"/>
<path d="M428,737.5 L428,740.5 Q432,747.5 449.8,747.7 Q467,747.5 472,740.5 L472,737.5 Z" class="w"/>
<path d="M416.6,728.9 L416.6,733.2 L457,742.4 L478,731.8 L481.5,728.9 Z" class="w"/>
<path d="M416.6,728.9 Q419,722 423,719.5 Q434,712 448.3,710.8 Q465,710.8 477.2,718 L482.6,721.7 L481.5,728.9 L457,738.8 Z" class="w"/>
<line x1="457.0" y1="738.8" x2="457.0" y2="742.4"/>
<ellipse cx="449.8" cy="723.8" rx="24.0" ry="10.0" style="stroke-width:1.6"/>
<ellipse cx="450.3" cy="724.6" rx="20.0" ry="8.2"/>
<ellipse cx="451.0" cy="726.0" rx="15.0" ry="6.0"/>
<ellipse cx="449.8" cy="728.3" rx="8.5" ry="3.0" class="w"/>
<ellipse cx="449.8" cy="728.5" rx="6.0" ry="2.0"/>
<path d="M440,719 L458,715 L470,720 L460,727 L446,726 Z" style="stroke-width:0.8"/>
<ellipse cx="441.1" cy="718.0" rx="3.0" ry="2.0" class="w"/>
<ellipse cx="421.8" cy="727.6" rx="1.5" ry="0.9"/>
<ellipse cx="478.5" cy="722.4" rx="1.5" ry="0.9"/>
<ellipse cx="458.0" cy="736.5" rx="1.5" ry="0.9"/>
<circle cx="428.3" cy="742.8" r="1.0" class="k"/>
<path d="M421.6,735 L421.6,762" class="ax" style="stroke-dasharray:6 3 2 3"/>
<path d="M457.3,743 L457.3,768" class="ax" style="stroke-dasharray:6 3 2 3"/>
<path d="M478.6,732 L478.6,753" class="ax" style="stroke-dasharray:6 3 2 3"/>
<rect x="419.4" y="762.8" width="4.4" height="16.7" rx="1.6" class="w"/>
<path d="M417.4,778.5 L425.8,778.5 L425.8,781.5 Q421.6,784.5 417.4,781.5 Z" class="f"/>
<line x1="418.4" y1="780.5" x2="424.8" y2="780.5" style="stroke:#fff;stroke-width:0.5"/>
<rect x="441.8" y="750.5" width="4.4" height="16.4" rx="1.6" class="w"/>
<path d="M439.8,765.9 L448.2,765.9 L448.2,768.9 Q444.0,771.9 439.8,768.9 Z" class="f"/>
<line x1="440.8" y1="767.9" x2="447.2" y2="767.9" style="stroke:#fff;stroke-width:0.5"/>
<rect x="455.1" y="768.6" width="4.4" height="16.3" rx="1.6" class="w"/>
<path d="M453.1,783.9 L461.5,783.9 L461.5,786.9 Q457.3,789.9 453.1,786.9 Z" class="f"/>
<line x1="454.1" y1="785.9" x2="460.5" y2="785.9" style="stroke:#fff;stroke-width:0.5"/>
<rect x="476.4" y="753.8" width="4.4" height="16.7" rx="1.6" class="w"/>
<path d="M474.4,769.5 L482.8,769.5 L482.8,772.5 Q478.6,775.5 474.4,772.5 Z" class="f"/>
<line x1="475.4" y1="771.5" x2="481.8" y2="771.5" style="stroke:#fff;stroke-width:0.5"/>
<path d="M435.3,809.0 L435.3,816.5 A14.1,5.8 0 0 0 463.5,816.5 L463.5,809.0 Z" class="w"/>
<ellipse cx="449.4" cy="809.0" rx="14.1" ry="5.8" class="w"/>
<ellipse cx="449.4" cy="809.0" rx="11.5" ry="4.4" style="stroke-width:1.5"/>
<ellipse cx="449.4" cy="809.0" rx="8.5" ry="3.2" style="stroke-width:1.3;stroke-dasharray:1.2 0.8"/>
<ellipse cx="449.4" cy="809.0" rx="4.6" ry="1.8" class="w"/>
<circle cx="436.0" cy="816.7" r="1.0" class="k"/>
<path d="M411.5,845.2 C419,834.5 432,831 442.7,831.4 C460,832 474,836 482.4,838.4 C487.5,840 489.7,842.5 489.7,845 L492.8,860.5 L497.1,886.1 L497.1,895.3 C495,909 470,916.7 448.2,916.7 C425,916.7 402.5,908 400.8,895.3 L401.1,888 L406,864.1 L410,854.3 Z" class="w"/>
<path d="M411.5,845.5 Q412,851 416,853.5 Q432,862 455,868" style="stroke-width:1.9"/>
<path d="M414,849 Q418,843 428,841 M416,853.5 Q430,861 455,866"/>
<ellipse cx="449.0" cy="851.0" rx="23.5" ry="8.8" transform="rotate(-2 449.0 851.0)" style="stroke-width:1.8"/>
<ellipse cx="449.3" cy="851.6" rx="21.3" ry="7.4" transform="rotate(-2 449.3 851.6)"/>
<path d="M429,852 Q436,849 440,848 Q448,845.5 456,846.5 Q463,848 467.5,851" style="stroke-width:1.5"/>
<path d="M432,850 L434,848 M444,846.5 L445,845 M455,846 L456,844.8 M460,847 L462,846"/>
<path d="M435,855.5 Q441,852 448,852 L467.5,853.5 M437,857 Q443,854.5 449,854.5 L466,856"/>
<path d="M439,836 L442,835 L443.5,839 L440.5,840 Z M462.5,839.5 L466,838.5 L467,841.5"/>
<path d="M418.5,843 L425,845 L427,848 L420,849.5 Z"/>
<path d="M416,849 L419,847.5 L421,851 L418,852 Z M422,851 L426,850 L427,853"/>
<path d="M482.5,840.5 L483,862 M485.5,841.5 L486,863 M487.5,843 L488.5,856"/>
<path d="M472,853 L481,855 M472,857 L480,858.5"/>
<path d="M456,868 L458,878.8 M460,868.5 L461.5,878.5 M463.5,868.5 L464.5,877.5"/>
<path d="M466,865 L478,862 L480,868 L470,872"/>
<path d="M483,840 L486,843 L486.5,862 L483,861 Z"/>
<path d="M492.8,860.5 L468.3,878.2 L458,878.8"/>
<path d="M489.5,859 L467.5,875.5"/>
<path d="M409.5,873.9 Q430,873 456,873.3 L458,878.8 Q430,879.5 409.7,877.6 Z"/>
<path d="M456,868 L458.5,878.8 M461,869 L462,878.5 M465,868 L466,877"/>
<path d="M406,866 Q415,864 422,863.5"/>
<path d="M401.7,888.6 C410,900 430,904.5 448.2,904.5 C470,904.5 488,897 495.9,886.7"/>
<path d="M402.5,893.5 C411,905 430,909 448.2,909 C470,909 488,902 496.5,891.5"/>
<path d="M405,879 C412,893 430,900 448,902 C468,902 485,896 494,888"/>
<path d="M404.0,894.5 L412.5,894.0 L410.5,901.0 L406.5,902.0 Z"/>
<path d="M418.0,902.5 L432.0,902.0 L430.0,909.5 L420.5,910.5 Z"/>
<path d="M440.0,906.0 L456.5,905.5 L454.5,912.5 L442.5,913.5 Z"/>
<path d="M464.5,903.0 L478.5,902.5 L476.5,910.0 L467.0,911.0 Z"/>
<path d="M485.0,896.0 L493.5,895.5 L491.5,902.5 L487.5,903.5 Z"/>
<circle cx="417.5" cy="884.7" r="1.1" class="k"/>
<path d="M424.7,931.1 Q426,925 433,924.5 Q440,921.4 447.2,921.4 Q460,922 468,926 Q472.5,928 472.2,931 L470.6,938.4 Q460,943.2 447.2,943.2 Q434,942 427.1,937.6 Q425,935 428,934 Q431,932 430,929.5 Q427.5,928 426,931.5 Z" class="w" style="stroke-width:1.4"/>
<ellipse cx="448.4" cy="932.3" rx="11.2" ry="5.0"/>
<path d="M459,923.5 L468,927.5" style="stroke-width:2.6"/>
<path d="M449,939.8 L460,939" style="stroke-width:2.4"/>
<ellipse cx="432.5" cy="935.3" rx="1.6" ry="0.8" class="f"/>
<ellipse cx="463.8" cy="935.8" rx="1.6" ry="0.8" class="f"/>
<ellipse cx="448.2" cy="925.0" rx="1.6" ry="0.8" class="f"/>
<path d="M432.7,936 L432.7,950" class="ax" style="stroke-dasharray:6 3 2 3"/>
<path d="M463.8,936 L463.8,950" class="ax" style="stroke-dasharray:6 3 2 3"/>
<rect x="430.5" y="957.7" width="4.4" height="11.9" rx="1.6" class="w"/>
<path d="M428.9,968.6 L436.5,968.6 L436.5,971.9 Q432.7,974.9 428.9,971.9 Z" class="f"/>
<line x1="429.9" y1="970.6" x2="435.5" y2="970.6" style="stroke:#fff;stroke-width:0.5"/>
<rect x="445.4" y="948.4" width="4.4" height="11.6" rx="1.6" class="w"/>
<path d="M443.8,959.0 L451.4,959.0 L451.4,962.3 Q447.6,965.3 443.8,962.3 Z" class="f"/>
<line x1="444.8" y1="961.0" x2="450.4" y2="961.0" style="stroke:#fff;stroke-width:0.5"/>
<rect x="461.6" y="956.5" width="4.4" height="11.9" rx="1.6" class="w"/>
<path d="M460.0,967.4 L467.6,967.4 L467.6,970.7 Q463.8,973.7 460.0,970.7 Z" class="f"/>
<line x1="461.0" y1="969.4" x2="466.6" y2="969.4" style="stroke:#fff;stroke-width:0.5"/>
<path d="M443.2,1009.0 L443.2,1020.0 A4.4,1.6 0 0 0 452.0,1020.0 L452.0,1009.0 Z" class="w"/>
<ellipse cx="447.6" cy="1009.0" rx="4.4" ry="1.6" class="w"/>
<ellipse cx="447.6" cy="1009.0" rx="4.4" ry="1.6" class="f"/>
<rect x="442.6" y="1019" width="10" height="2.2" class="f"/>
<rect x="443" y="1021" width="9.2" height="18" class="w"/>
<rect x="446.3" y="1025.4" width="2.6" height="7.2" rx="1.2" class="w"/>
<path d="M439.3,1041.0 L439.3,1046.0 A8.0,2.6 0 0 0 455.3,1046.0 L455.3,1041.0 Z" class="w"/>
<ellipse cx="447.3" cy="1041.0" rx="8.0" ry="2.6" class="w"/>
<path d="M440.1,1046.5 L440.1,1053.5 A7.2,2.3 0 0 0 454.5,1053.5 L454.5,1046.5 Z" class="w"/>
<ellipse cx="447.3" cy="1046.5" rx="7.2" ry="2.3" class="w"/>
<ellipse cx="447.3" cy="1041.0" rx="4.6" ry="1.5"/>
<path d="M440.1,1049 Q447.3,1052 454.5,1049"/>
<rect x="428.3" y="1030.2" width="3.6" height="9.3" rx="1.3" class="w"/>
<line x1="431.9" y1="1034.0" x2="446.4" y2="1029.0"/>
<path d="M424.7,1079.2 Q426,1071 433.5,1067.9 L438,1066 L459,1066 Q463,1071 463.3,1074.3 Q470.6,1076 470.6,1079.2 L470.6,1101 Q468,1108 447.2,1108.5 Q428,1108 426.3,1101 L426,1090 Q424.5,1086 424.7,1079.2 Z" class="w"/>
<path d="M438.1,1065.5 L438.1,1075.0 A10.7,4.2 0 0 0 459.5,1075.0 L459.5,1065.5 Z" class="w"/>
<ellipse cx="448.8" cy="1065.5" rx="10.7" ry="4.2" class="w"/>
<ellipse cx="448.8" cy="1065.5" rx="6.6" ry="2.9"/>
<path d="M433.5,1068 Q426,1073 424.7,1079.2 L427,1085 L436.5,1088 L436.5,1093 L440,1093 L440,1088.5 Q456,1089 470.6,1081.6"/>
<path d="M436.5,1078 L440,1080 L440,1088.5"/>
<path d="M427,1085 L427,1098"/>
<path d="M459.5,1075 Q468,1078 470.6,1081.6"/>
<circle cx="444.0" cy="1074.0" r="1.0" class="k"/>
<path d="M439.2,1115.6 L439.2,1117.2 A7.6,3.1 0 0 0 454.4,1117.2 L454.4,1115.6 Z" class="w"/>
<ellipse cx="446.8" cy="1115.6" rx="7.6" ry="3.1" class="w"/>
<ellipse cx="446.8" cy="1115.6" rx="3.0" ry="1.2" class="f"/>
<ellipse cx="446.8" cy="1126.5" rx="4.1" ry="2.3" class="f"/>
<ellipse cx="446.8" cy="1126.0" rx="2.2" ry="1.0" class="w"/>
<rect x="444.3" y="1134" width="5.4" height="15" rx="2" class="w"/>
<path d="M441.8,1149.6 L441.8,1151.3 A5.0,2.3 0 0 0 451.8,1151.3 L451.8,1149.6 Z" class="w"/>
<ellipse cx="446.8" cy="1149.6" rx="5.0" ry="2.3" class="w"/>
<ellipse cx="446.8" cy="1149.6" rx="2.6" ry="1.1"/>
<ellipse cx="447.2" cy="1164.2" rx="7.0" ry="3.0" style="stroke-width:1.8"/>
<ellipse cx="447.2" cy="1164.2" rx="4.6" ry="1.8"/>
<path d="M441,1165.5 L441.5,1168.5 L444,1167"/>
<path d="M432.9,1176.0 L432.9,1183.7 A14.2,5.9 0 0 0 461.3,1183.7 L461.3,1176.0 Z" class="w"/>
<ellipse cx="447.1" cy="1176.0" rx="14.2" ry="5.9" class="w"/>
<ellipse cx="447.1" cy="1176.0" rx="11.8" ry="4.7" style="stroke-width:1.7"/>
<ellipse cx="447.1" cy="1176.0" rx="9.0" ry="3.4" style="stroke-width:1.2;stroke-dasharray:1.3 0.8"/>
<ellipse cx="447.1" cy="1176.0" rx="4.8" ry="1.9" class="w"/>
<path d="M432.9,1197.8 L432.9,1204.8 A14.2,5.9 0 0 0 461.3,1204.8 L461.3,1197.8 Z" class="w"/>
<ellipse cx="447.1" cy="1197.8" rx="14.2" ry="5.9" class="w"/>
<ellipse cx="447.1" cy="1197.8" rx="11.8" ry="4.7" style="stroke-width:1.7"/>
<ellipse cx="447.1" cy="1197.8" rx="9.0" ry="3.4" style="stroke-width:1.2;stroke-dasharray:1.3 0.8"/>
<ellipse cx="447.1" cy="1197.8" rx="4.8" ry="1.9" class="w"/>
<circle cx="440.0" cy="1208.2" r="1.0" class="k"/>
<rect x="466.6" y="1183.1" width="4.8" height="12.1" rx="2" class="w"/>
<line x1="466.8" y1="1186.5" x2="471.2" y2="1186.5"/>
<path d="M440.6,1222.3 L440.6,1237.5 A6.1,2.0 0 0 0 452.8,1237.5 L452.8,1222.3 Z" class="w"/>
<ellipse cx="446.7" cy="1222.3" rx="6.1" ry="2.0" class="w"/>
<ellipse cx="446.7" cy="1222.3" rx="6.1" ry="2.0" class="f"/>
<rect x="440.6" y="1222.3" width="12.2" height="2.6" class="f"/>
<path d="M438.6,1238 L440.5,1236.5 L452.8,1236.5 L454.9,1238 L454.9,1246 L452.5,1247.8 L440.5,1247.8 L438.6,1246 Z" class="w"/>
<line x1="438.6" y1="1238.5" x2="454.9" y2="1238.5"/>
<line x1="442.5" y1="1238.5" x2="442.5" y2="1247.6"/>
<line x1="450.5" y1="1238.5" x2="450.5" y2="1247.6"/>
<circle cx="445.3" cy="1236.0" r="1.0" class="k"/>
<path d="M438.9,1259.8 L438.9,1274.5 L447.9,1277.4 Q470,1275 479.2,1261 L479.2,1249.6 Q477,1243 468,1242.4 L462.8,1244.7 L462.8,1250 Q464,1253 470,1254 Q472.5,1257 466,1258.5 Q455,1262 447.9,1262 Z" class="w"/>
<path d="M438.9,1259.8 L441,1258.5 L447.9,1262 L447.9,1277.4"/>
<path d="M447.9,1262 Q470,1262 479.2,1249.6"/>
<path d="M468,1242.4 Q478,1246 479.2,1252"/>
<path d="M462.8,1244.7 Q470,1246.5 473,1251 Q473,1254 470,1254"/>
<path d="M457.5,1256 L458,1253 Q461.5,1251.5 466,1252.5 L468.5,1255"/>
<ellipse cx="464.5" cy="1256.0" rx="1.3" ry="0.9"/>
<line x1="442.0" y1="1267.8" x2="447.9" y2="1267.8"/>
<line x1="451.0" y1="1277.0" x2="451.0" y2="1288.0"/>
<line x1="464.2" y1="1272.0" x2="464.2" y2="1281.0"/>
<rect x="449.1" y="1287.8" width="3.8" height="10.4" rx="1.6" class="w"/>
<path d="M447.4,1297.2 L454.6,1297.2 L454.6,1300.2 Q451.0,1303.2 447.4,1300.2 Z" class="f"/>
<line x1="448.4" y1="1299.2" x2="453.6" y2="1299.2" style="stroke:#fff;stroke-width:0.5"/>
<rect x="462.3" y="1280.8" width="3.8" height="10.4" rx="1.6" class="w"/>
<path d="M460.6,1290.2 L467.8,1290.2 L467.8,1293.2 Q464.2,1296.2 460.6,1293.2 Z" class="f"/>
<line x1="461.6" y1="1292.2" x2="466.8" y2="1292.2" style="stroke:#fff;stroke-width:0.5"/>
<path d="M385.6,1340 Q386.5,1331 395,1327 L445,1309 L496,1327 Q505.5,1331 506.2,1340 C506,1355 480,1365.6 446,1365.6 C411,1365.6 386,1355 385.6,1340 Z" class="w" style="stroke:none"/>
<path d="M385.6,1340 Q386.5,1331 395.5,1326.5"/>
<path d="M506.2,1340 Q505.5,1331 496.5,1326.5"/>
<path d="M385.6,1340 C386,1355 411,1365.6 446,1365.6 C480,1365.6 506,1355 506.2,1340"/>
<ellipse cx="445.0" cy="1330.5" rx="50.6" ry="21.6" class="w"/>
<ellipse cx="445.6" cy="1327.8" rx="22.4" ry="10.0" class="w"/>
<ellipse cx="445.6" cy="1328.3" rx="13.0" ry="5.6"/>
<rect x="442.2" y="1316.7" width="7.8" height="12" rx="2" class="f"/>
<ellipse cx="446.1" cy="1317.0" rx="3.9" ry="1.5" class="w"/>
<ellipse cx="429.5" cy="1325.0" rx="1.6" ry="1.2"/>
<ellipse cx="460.5" cy="1324.5" rx="1.6" ry="1.2"/>
<ellipse cx="434.0" cy="1334.5" rx="1.6" ry="1.2"/>
<ellipse cx="457.0" cy="1334.8" rx="1.6" ry="1.2"/>
<path d="M371.6,1406 L372,1436 C374,1455 405,1466.7 445.6,1466.7 C486,1466.7 517,1455 519.4,1436 L519.6,1406 Z" class="w"/>
<ellipse cx="445.6" cy="1406.0" rx="74.0" ry="31.1" class="w"/>
<ellipse cx="445.3" cy="1405.5" rx="59.1" ry="24.5"/>
<path d="M389.5,1401 C393,1390 415,1383.5 445.5,1383.5 C476,1383.5 498,1390 501.5,1401"/>
<circle cx="387.1" cy="1434.4" r="1.0" class="k"/>
<circle cx="412.2" cy="1354.9" r="1.0" class="k"/>
<path d="M887,1011.5 L902,1004 L940,1016.5 L940.5,1042.5 L941.5,1046 L931,1052.5 L915,1048 L886,1038.5 Z" class="w"/>
<path d="M887,1011.5 L925,1024 L940,1016.5 M925,1024 L924.5,1048"/>
<path d="M889,1013.5 L924,1025.5" style="stroke-width:1.6"/>
<path d="M914,1014 L929,1019 L926,1021.5"/>
<path d="M888,1025 L899,1020 M888,1034 L906,1027.5 M890,1037 L912,1030 M893,1040 L916,1033"/>
<path d="M900,1027 L909,1021.5 L913,1026 L907,1030.5"/>
<path d="M909.5,1030 L915,1025 L915.5,1038 Z" class="w"/>
<ellipse cx="917.5" cy="1031.0" rx="2.8" ry="3.5"/>
<path d="M926,1026 L930,1024 L930,1043 L926,1046 Z M930,1032 L936,1030 M930,1038 L936,1036"/>
<path d="M928,1036 L933,1035 L934,1041 L929,1043 Z" class="f"/>
<path d="M936.5,1023 L940,1021.5 L940.5,1028 L937,1029 Z"/>
<ellipse cx="940.2" cy="1026.5" rx="1.8" ry="2.2" class="w"/>
<path d="M888,1036 L896,1041 L903,1044 L910,1046.5" style="stroke-width:1.8"/>
<path d="M857,980 Q866,975 875,977.5 Q886,980 892.5,986 Q898,990 900,992.5 Q902,996 902,1004 L887,1011.5 L867.5,1004 L860,1000 Z" class="w"/>
<path d="M857,980 Q866,975 875,977.5 Q886,980 892.5,986 Q898,990 900,992.5 Q902,996 902,1004" style="stroke-width:1.7"/>
<path d="M859,983 Q867,979 875,980.5 Q885,983 891,988.5 Q896,992 898,996 L899,1002"/>
<line x1="875.0" y1="985.0" x2="875.5" y2="997.5"/>
<line x1="879.0" y1="985.0" x2="879.5" y2="997.5"/>
<line x1="888.0" y1="985.0" x2="888.5" y2="997.5"/>
<line x1="892.0" y1="985.0" x2="892.5" y2="997.5"/>
<path d="M867.5,990 L887,1006 M860,1000 L887,1006"/>
<path d="M862,990 L862,998 M864.5,989 L864.5,998"/>
<path d="M826.3,960.7 L864.4,973.5 L857,980 L860,1000 L886,1011 L886,1038.5 L880,1038.1 L848.9,1031.1 L808.4,1019.4 L807,973 Z" class="w"/>
<line x1="826.3" y1="960.7" x2="864.4" y2="973.5"/>
<line x1="808.4" y1="1019.4" x2="848.9" y2="1031.1"/>
<line x1="848.9" y1="1031.1" x2="886.0" y2="1038.5"/>
<path d="M806.9,973.2 L848.9,985.2"/>
<path d="M818.5,984.5 Q816.5,986 816.8,989 L816.2,1015 Q816.5,1017.5 818.5,1018 L844.5,1028.5 Q846.5,1029 846.5,1027 L847.3,994 Q847.3,992.2 845.5,991.8 Z"/>
<path d="M860,998 L884,1004 M858,1007 L884,1013 M859,1016 L868,1018 L870,1021 L860,1021 Z"/>
<path d="M862,1023 L886,1028 M861,1027 L879,1031"/>
<path d="M865,1006 L868,1016 M872,1007 L874,1016"/>
<ellipse cx="854.0" cy="1004.0" rx="6.8" ry="28.5" transform="rotate(-4 854.0 1004.0)" class="w"/>
<path d="M852.5,975.8 Q844.5,990 845,1005 Q845.5,1021 851.5,1032.5"/>
<path d="M859,976 Q852.5,990 853,1005 Q853.5,1020 858.5,1032.3"/>
<path d="M861.5,977.5 Q855.5,990 856,1005 Q856.5,1020 861,1032.6"/>
<path d="M777.3,964.2 Q790,951.5 802.2,946.7 Q810,945.3 816.2,945.9 L827.9,950.2 Q831.5,953 831.4,961.1 L826.3,960.7 Q812,964 808,972 L810,1022.1 Q805,1025.3 794.4,1025.6 L783.5,1023.3 Q778,1021.5 778.1,1019.4 Q772,1007 772.7,992.2 Q773.5,976 777.3,964.2 Z" class="w"/>
<path d="M780.4,984.4 Q784,973 786.7,970.4 Q790,966 794.4,962.7 Q800,958.5 806.1,955.7 Q812,952.5 817.8,951"/>
<path d="M783.5,983.7 Q787,974 790.5,968.9 Q797,962 807,957.5 Q813,954.5 819.3,952.6"/>
<path d="M777.5,964.5 Q792,967.5 808,972.5"/>
<path d="M780.4,984.4 L780.4,1003.9 Q781.5,1010 783.5,1011.6 M813.1,991.4 L813.9,1011.6"/>
<path d="M782,986 L813.1,992.2 M782,1002.3 L813.1,1007.8 M782.5,1006 L813.5,1011"/>
<path d="M782.5,1010 Q790,1013 812,1013.5"/>
<path d="M784.3,995.3 L790,995.6 L790,1000.8 L784.3,1000.5 Z M791.5,996.5 L799.9,997.5 L799.9,1000.8 L791.5,999.8 Z"/>
<path d="M786,987 Q792,980 802,980 Q810,982 813,990"/>
<path d="M774.5,985 Q773.5,1000 776,1012 M778.5,1020 L779.5,1022"/>
<path d="M813.5,985 Q814.5,998 813.9,1011.6" style="stroke-width:1.6"/>
<path d="M762,1042 Q761,1040 764,1040.5 L784,1043 Q787.5,1044 787.4,1047 L787,1057 Q786.5,1060.6 783,1060.4 L763,1058 Q759.8,1057.5 760,1055 Z" class="w"/>
<path d="M761.5,1042.5 L771,1043.5 L771,1058.5 L761,1057.5 Z" class="f"/>
<line x1="763.3" y1="1044" x2="763.3" y2="1057" style="stroke:#fff;stroke-width:0.6"/>
<line x1="765.5" y1="1044" x2="765.5" y2="1057" style="stroke:#fff;stroke-width:0.6"/>
<line x1="767.7" y1="1044" x2="767.7" y2="1057" style="stroke:#fff;stroke-width:0.6"/>
<line x1="769.8" y1="1044" x2="769.8" y2="1057" style="stroke:#fff;stroke-width:0.6"/>
<path d="M778.9,1021.8 L778.9,1031.9 L768.8,1041.2"/>
<path d="M796,1037.3 L827.5,1045.3 Q829.6,1046 829.4,1048 L828.2,1068.5 Q828,1070.5 826,1070 L796.5,1062 Q794.4,1061.4 794.4,1059 L794.4,1039.3 Q794.4,1036.9 796,1037.3 Z" class="w"/>
<path d="M842.8,938.6 L874.5,948 Q876.3,948.7 876.3,951 L876.8,969.5 Q876.9,971.5 874.8,971 L845,962.7 Q843.3,962.2 843.3,960 L841.2,940.6 Q841.1,938.2 842.8,938.6 Z" class="w"/>
<circle cx="810.8" cy="1052.5" r="1.1" class="k"/>
<circle cx="864.2" cy="953.3" r="1.1" class="k"/>
<ellipse cx="886.9" cy="958.7" rx="7.8" ry="8.6" class="f"/>
<ellipse cx="886.2" cy="959.4" rx="2.3" ry="2.0" class="w"/>
<rect x="897.3" y="866.1" width="5.5" height="8.6" class="w"/>
<line x1="899.5" y1="866.5" x2="899.5" y2="874.5"/>
<line x1="901.0" y1="866.5" x2="901.0" y2="874.5"/>
<path d="M900,874.7 Q899,886 898.9,898.3" style="stroke-width:1.8"/>
<path d="M895.5,898.3 L902.5,899 Q903.6,900 903.6,901 L903.6,914.5 Q903,915.8 901,915.6 L895.5,914.5 Q894.2,914 894.2,912.5 L894.2,899.5 Z" class="w"/>
<path d="M899.5,902 L899.5,909 L897.5,909"/>
<ellipse cx="912.4" cy="900.4" rx="3.4" ry="1.8" class="f"/>
<rect x="910.9" y="902" width="3.2" height="8.5" rx="1.4" class="w"/>
<path d="M912.5,910.6 L912.5,919.4 L902.2,923.9"/>
<line x1="900.6" y1="920.0" x2="901.1" y2="927.8"/>
<path d="M889.8,943 L890.2,936.3 L894.7,929.7 L899.1,927.4 L911.1,931 L916,933.2 L916.4,938.1 L912,941.7 L903.1,945.7 L896.4,945.7 Z" class="w"/>
<path d="M896,945.2 L896,932 Q897,928.8 899.5,928.8 Q903,929.5 903.1,933 L903.1,945.5"/>
<path d="M903.1,937 L916,933.2 M899.1,927.4 Q905,928.5 911.1,931" style="stroke-width:1.8"/>
<path d="M904,937.5 L904,943.4 M906,937 L906,942.8 M907.6,936.5 L907.6,942.2"/>
<ellipse cx="912.9" cy="937.7" rx="1.6" ry="1.5"/>
<path d="M890.2,936.3 L894,937 L894,940 L890,940 M889.8,943 L894,943.5 L895.5,942"/>
<path d="M903.1,946.1 L894.2,953.7" class="ax"/>
<path d="M900.4,951.9 L900.4,968.3 L888.9,974.6"/>
<line x1="945.3" y1="952.8" x2="937.8" y2="955.9" style="stroke-width:2.9;stroke:#1a1a1a;stroke-linecap:butt"/>
<line x1="942.5" y1="953.9" x2="938.7" y2="955.5" style="stroke-width:1.3;stroke:#fff;stroke-dasharray:1.1 1.5;stroke-linecap:butt"/>
<line x1="937.8" y1="955.9" x2="921.2" y2="962.8"/>
<ellipse cx="945.3" cy="952.8" rx="2.6" ry="3.2" transform="rotate(157.54306100005775 945.3 952.8)" class="f"/>
<ellipse cx="945.0" cy="952.9" rx="0.9" ry="1.4" transform="rotate(157.54306100005775 945.0 952.9)" class="w"/>
<line x1="950.7" y1="964.3" x2="943.1" y2="967.9" style="stroke-width:2.9;stroke:#1a1a1a;stroke-linecap:butt"/>
<line x1="948.0" y1="965.6" x2="944.0" y2="967.5" style="stroke-width:1.3;stroke:#fff;stroke-dasharray:1.1 1.5;stroke-linecap:butt"/>
<line x1="943.1" y1="967.9" x2="932.3" y2="973.0"/>
<ellipse cx="950.7" cy="964.3" rx="2.6" ry="3.2" transform="rotate(154.65382405805323 950.7 964.3)" class="f"/>
<ellipse cx="950.4" cy="964.4" rx="0.9" ry="1.4" transform="rotate(154.65382405805323 950.4 964.4)" class="w"/>
<path d="M908,966 L918,962.5 L922.5,965 L922.5,978 L912,981 L908,979 Z" class="w"/>
<path d="M918,962.5 L918,978.5 M914,964.5 L914,979.5"/>
<ellipse cx="920.8" cy="964.8" rx="1.8" ry="1.5" class="f"/>
<ellipse cx="920.8" cy="979.0" rx="1.8" ry="1.5" class="f"/>
<path d="M898,988 L904.2,984.4 L904.2,976.4 L908,974"/>
<path d="M906.5,996.3 L907.5,983.5 L918,979.8"/>
<path d="M922.9,967.6 L966.7,987.8" style="stroke-width:2.4"/>
<path d="M922.9,967.6 L966.7,987.8" style="stroke-width:0.6;stroke:#fff"/>
<path d="M922.9,979.5 L954.4,995.6" style="stroke-width:2.4"/>
<path d="M922.9,979.5 L954.4,995.6" style="stroke-width:0.6;stroke:#fff"/>
<path d="M953.3,995.6 L972.2,986.7 L990,990.5 L990,1008 L988.9,1015.6 L975,1011 L953.3,1004.4 Z" class="w"/>
<path d="M953.3,995.6 L975,1001.5 L990,995 M975,1001.5 L975,1011"/>
<path d="M956,1001.5 L962,1003 M966,1004 L972,1006"/>
<path d="M986.7,1004 L986.7,1010 Q990,1015.6 999,1015.6 Q1011,1015 1011.1,1008 L1011.1,1003 Z" class="w"/>
<path d="M984.5,996.7 L984.5,1002.2 Q986,1007.5 997.8,1007.7 Q1011,1007.5 1011.1,1002.2 L1011.1,996.7 Z" class="w"/>
<ellipse cx="997.8" cy="996.7" rx="13.3" ry="5.5" class="w"/>
<path d="M986.7,1008 Q995,1011 1011,1009"/>
<circle cx="996.7" cy="996.7" r="1.1" class="k"/>
<path d="M988.9,1015.6 L980,1019 M975,1011 L955,1016" class="ax"/>
<ellipse cx="975.0" cy="954.0" rx="5.3" ry="8.8" transform="rotate(-8 975.0 954.0)" class="w"/>
<ellipse cx="975.5" cy="954.5" rx="3.2" ry="6.0" transform="rotate(-8 975.5 954.5)"/>
<ellipse cx="976.0" cy="955.0" rx="1.5" ry="2.5" transform="rotate(-8 976.0 955.0)" class="f"/>
<line x1="978.0" y1="960.0" x2="985.0" y2="964.5"/>
<ellipse cx="1005.0" cy="961.0" rx="5.3" ry="8.8" transform="rotate(-8 1005.0 961.0)" class="w"/>
<ellipse cx="1005.5" cy="961.5" rx="3.2" ry="6.0" transform="rotate(-8 1005.5 961.5)"/>
<ellipse cx="1006.0" cy="962.0" rx="1.5" ry="2.5" transform="rotate(-8 1006.0 962.0)" class="f"/>
<path d="M996,973.5 Q1005,976 1012,972.5 Q1014,970 1010.5,967"/>
<path d="M1026,986.4 Q1045,988 1059,992" style="stroke-width:1.8"/>
<path d="M1044.5,983.9 Q1053,986 1060.7,990" style="stroke-width:1.8"/>
<path d="M1042.5,997.3 Q1052,997 1061,998.2" style="stroke-width:1.8"/>
<path d="M1059.5,988.5 L1063,987.5 L1070.5,990 L1070.5,1005 L1067,1006 L1059.5,1003.5 Z" class="w"/>
<path d="M1063,987.5 L1063,1002 L1067,1003.5 L1067,1006 M1063,1002 L1059.5,1003.5"/>
<circle cx="1062.5" cy="997.5" r="1.0" class="k"/>
<path d="M1040,1018.3 L1116.7,1044.2 Q1127.5,1048 1127.5,1060 L1127.5,1088 Q1126,1101.7 1110,1101.7 L1100,1100.8 L1021.7,1079.2 Q1017.5,1076 1017.5,1070 L1019.2,1040 Q1022,1022 1040,1018.3 Z" class="w"/>
<path d="M1019.2,1040 Q1021,1037 1026,1038.5 L1060,1050 Q1085,1058 1092,1072 Q1096,1085 1100,1100.8"/>
<path d="M1030,1039.5 L1062,1050.5 Q1088,1059 1095,1073"/>
<path d="M1116.7,1044.2 Q1100,1044 1098,1060 Q1097,1080 1100,1095 Q1103,1101.7 1110,1101.7"/>
<path d="M1119,1047 Q1103,1047 1101,1062 Q1100,1080 1103,1094"/>
<line x1="1054.0" y1="1061.7" x2="1084.0" y2="1069.7" style="stroke-width:2.5"/>
<line x1="1055.5" y1="1062.1" x2="1083.0" y2="1069.4" style="stroke-width:0.5;stroke:#fff"/>
<rect x="1083.0" y="1068.2" width="4" height="3" class="w" transform="rotate(15 1083.0 1068.2)"/>
<line x1="1055.6" y1="1069.3" x2="1085.6" y2="1077.3" style="stroke-width:2.5"/>
<line x1="1057.1" y1="1069.7" x2="1084.6" y2="1077.0" style="stroke-width:0.5;stroke:#fff"/>
<rect x="1084.6" y="1075.8" width="4" height="3" class="w" transform="rotate(15 1084.6 1075.8)"/>
<line x1="1057.2" y1="1076.9" x2="1087.2" y2="1084.9" style="stroke-width:2.5"/>
<line x1="1058.7" y1="1077.3" x2="1086.2" y2="1084.6" style="stroke-width:0.5;stroke:#fff"/>
<rect x="1086.2" y="1083.4" width="4" height="3" class="w" transform="rotate(15 1086.2 1083.4)"/>
<line x1="1058.8" y1="1084.5" x2="1088.8" y2="1092.5" style="stroke-width:2.5"/>
<line x1="1060.3" y1="1084.9" x2="1087.8" y2="1092.2" style="stroke-width:0.5;stroke:#fff"/>
<rect x="1087.8" y="1091.0" width="4" height="3" class="w" transform="rotate(15 1087.8 1091.0)"/>
<path d="M1104,1057 L1116,1051 L1119,1055 L1119,1060 L1106,1065 Z"/>
<ellipse cx="1113.5" cy="1055.5" rx="1.5" ry="1.6"/>
<ellipse cx="1118.7" cy="1073.3" rx="3.3" ry="6.0" class="w"/>
<ellipse cx="1118.7" cy="1073.3" rx="1.8" ry="3.8"/>
<ellipse cx="1118.0" cy="1092.0" rx="5.3" ry="8.0" transform="rotate(8 1118.0 1092.0)" class="w"/>
<ellipse cx="1119.0" cy="1092.0" rx="3.8" ry="6.5" transform="rotate(8 1119.0 1092.0)"/>
<line x1="1115.5" y1="1091.0" x2="1122.0" y2="1093.0"/>
<circle cx="1080.8" cy="1040.0" r="1.0" class="k"/>
<line x1="1120.0" y1="1073.3" x2="1136.0" y2="1078.0"/>
<line x1="1149.3" y1="1081.3" x2="1137.3" y2="1078.0" style="stroke-width:3.4;stroke:#1a1a1a;stroke-linecap:butt"/>
<line x1="1146.4" y1="1080.5" x2="1138.3" y2="1078.3" style="stroke-width:1.6;stroke:#fff;stroke-dasharray:1.1 1.5;stroke-linecap:butt"/>
<line x1="1137.3" y1="1078.0" x2="1137.2" y2="1078.0"/>
<ellipse cx="1149.3" cy="1081.3" rx="2.3" ry="4.4" transform="rotate(-164.62374875117402 1149.3 1081.3)" class="f"/>
<ellipse cx="1149.0" cy="1081.2" rx="0.8" ry="2.0" transform="rotate(-164.62374875117402 1149.0 1081.2)" class="w"/>
<path d="M1191,1080 Q1196,1090 1200,1098 Q1205,1108 1212,1113"/>
<path d="M1193.5,1080 Q1198,1089 1202,1097 Q1207,1106 1213,1111"/>
<ellipse cx="1192.5" cy="1080.5" rx="2.0" ry="2.3" class="f"/>
<path d="M1158.5,1125 Q1167,1116 1180,1113.5 Q1195,1112 1210,1113.5"/>
<path d="M1160,1127 Q1168,1118 1181,1115.5 Q1195,1114 1210,1116"/>
<ellipse cx="1157.5" cy="1126.0" rx="2.4" ry="2.0" class="w"/>
<path d="M1209.3,1112.7 L1357.3,1151.3 L1355.3,1158 L1209.3,1118.7 Z" class="w"/>
<path d="M1204,1114 L1210,1112.7 M1204,1117 L1210,1118.7"/>
<ellipse cx="1234.0" cy="1122.7" rx="4.5" ry="9.0" transform="rotate(8 1234.0 1122.7)" class="w"/>
<ellipse cx="1236.0" cy="1123.2" rx="3.0" ry="7.2" transform="rotate(8 1236.0 1123.2)"/>
<ellipse cx="1312.0" cy="1143.3" rx="3.8" ry="7.0" transform="rotate(8 1312.0 1143.3)" class="w"/>
<ellipse cx="1313.5" cy="1143.8" rx="2.4" ry="5.5" transform="rotate(8 1313.5 1143.8)"/>
<line x1="1325.0" y1="1142.0" x2="1325.5" y2="1152.0"/>
<line x1="1327.0" y1="1142.5" x2="1327.5" y2="1152.5"/>
<circle cx="1250.7" cy="1126.0" r="1.0" class="k"/>
<path d="M1354,1150 L1367,1152 L1367.5,1162 L1354.5,1159 Z" class="w"/>
<line x1="1357.0" y1="1150.5" x2="1357.0" y2="1160.0"/>
<line x1="1360.0" y1="1150.5" x2="1360.0" y2="1160.0"/>
<line x1="1363.0" y1="1150.5" x2="1363.0" y2="1160.0"/>
<path d="M1367,1148.5 L1371,1147.5 L1393,1154 L1396,1172 L1389,1175.5 L1367.5,1170 L1365,1163 Z" class="w"/>
<path d="M1371,1147.5 L1373,1166 L1389,1175.5"/>
<path d="M1377,1152 L1390,1156 L1390,1163 L1377,1159 Z" class="f"/>
<line x1="1379" y1="1153.6" x2="1379" y2="1160.1" style="stroke:#fff;stroke-width:0.6"/>
<line x1="1382" y1="1154.5" x2="1382" y2="1161.0" style="stroke:#fff;stroke-width:0.6"/>
<line x1="1385" y1="1155.4" x2="1385" y2="1161.9" style="stroke:#fff;stroke-width:0.6"/>
<line x1="1388" y1="1156.3" x2="1388" y2="1162.8" style="stroke:#fff;stroke-width:0.6"/>
<path d="M1391,1153 L1395.5,1151 L1398,1171 L1393,1175 Z" class="w"/>
<path d="M1398,1161 L1407,1163.5 L1407,1167 L1398,1165 Z" class="w"/>
<path d="M1397,1169 L1409,1172 L1409,1175.5 L1397,1173 Z" class="w"/>
<ellipse cx="1403.0" cy="1165.0" rx="0.9" ry="0.9" class="f"/>
<ellipse cx="1404.0" cy="1173.5" rx="0.9" ry="0.9" class="f"/>
<path d="M876,1040.7 L875.7,1111" class="ax"/>
<path d="M853.8,1074.1 L888,1046" class="ax"/>
<path d="M825.3,1075.8 L837.4,1067.2 L852.9,1073.3 L852.9,1094.8 L840.8,1101.7 L824.5,1099.1 Z" class="w"/>
<path d="M825.3,1075.8 L840.8,1082.7 L852.9,1073.3 M840.8,1082.7 L840.8,1101.7"/>
<path d="M824.5,1077 L830,1079.5 L830,1099.5 L824.5,1098.5 Z" class="f"/>
<path d="M829,1087 L840,1090.5 L840,1093 L829,1090 Z" class="f"/>
<line x1="824.8" y1="1081" x2="829.5" y2="1081.8" style="stroke:#fff;stroke-width:0.7"/>
<line x1="824.8" y1="1085" x2="829.5" y2="1085.8" style="stroke:#fff;stroke-width:0.7"/>
<line x1="824.8" y1="1093" x2="829.5" y2="1093.8" style="stroke:#fff;stroke-width:0.7"/>
<line x1="824.8" y1="1097" x2="829.5" y2="1097.8" style="stroke:#fff;stroke-width:0.7"/>
<ellipse cx="848.5" cy="1088.5" rx="4.5" ry="5.8" class="w"/>
<ellipse cx="852.5" cy="1090.0" rx="2.2" ry="2.6" class="w"/>
<circle cx="839.2" cy="1096.7" r="1.0" class="k"/>
<path d="M866.7,1117.5 L871,1113 L871.5,1112 L884,1112 L886.5,1115 L888.2,1120 L888.2,1124 L883,1129.2 L868,1129.2 L866.7,1126 Z" class="w"/>
<path d="M871.5,1112 L871.5,1120 L866.7,1121 M871.5,1120 L883,1121.5 L888.2,1120 M883,1121.5 L883,1129"/>
<path d="M875,1113 L875,1120 M880.5,1112.5 L880.5,1121"/>
<ellipse cx="901.1" cy="1113.3" rx="7.3" ry="7.8" class="f"/>
<ellipse cx="900.8" cy="1113.3" rx="1.8" ry="2.0" class="w"/>
<line x1="899.8" y1="1101.7" x2="899.8" y2="1106.0"/>
<line x1="898.0" y1="1102.3" x2="901.5" y2="1101.2"/>
<line x1="889.9" y1="1121.5" x2="895.1" y2="1118.0"/>
<path d="M870.1,1129.2 L859.8,1135.3 L859.8,1139.6"/>
<rect x="858.4" y="1139.6" width="2.8" height="9.8" rx="1.6" class="w"/>
<path d="M856.6,1148.4 L863.0,1148.4 L863.0,1150.1 Q859.8,1153.1 856.6,1150.1 Z" class="f"/>
<line x1="857.6" y1="1150.4" x2="862.0" y2="1150.4" style="stroke:#fff;stroke-width:0.5"/>
<line x1="875.3" y1="1129.2" x2="875.3" y2="1143.9"/>
<rect x="871.4" y="1143.9" width="9.5" height="18.1" rx="1" class="w"/>
<line x1="871.6" y1="1146.5" x2="880.7" y2="1146.5"/>
<path d="M875.3,1162 Q874,1170 875.5,1175 Q876.5,1181 875.3,1186" style="stroke-width:1.5"/>
<rect x="873.6" y="1186" width="3.4" height="13" rx="0.8" class="w"/>
<line x1="873.8" y1="1189.0" x2="876.8" y2="1189.0"/>
<line x1="890.8" y1="1071.5" x2="896.0" y2="1068.8"/>
<path d="M884,1074 L890.5,1070.5 L891.5,1073 L885.5,1078.5 Z" class="w"/>
<ellipse cx="883.2" cy="1076.8" rx="2.3" ry="2.6" class="w"/>
<ellipse cx="883.2" cy="1076.8" rx="1.1" ry="1.2"/>
<path d="M895.1,1060 Q895.3,1057.6 899,1057.8 Q904.5,1058.5 904.6,1061 L904.6,1084.5 L896,1083.5 L895.1,1082 Z" class="w"/>
<ellipse cx="900.0" cy="1060.5" rx="1.5" ry="1.4"/>
<rect x="898.6" y="1064" width="2.6" height="15.5" rx="1.3"/>
<line x1="895.5" y1="1082.0" x2="904.4" y2="1083.5"/>
<line x1="904.6" y1="1061.0" x2="913.0" y2="1054.0"/>
<path d="M939.1,1098.5 L955,1098.5 L957.8,1100.2 L1002.2,1112.7 L1005,1111.5 L1020,1115 L1030.7,1118.9 L1069,1125 L1075.5,1123 L1076,1128 L1071,1136.7 L1062.7,1136.7 L1057.5,1132 L1030.7,1131.3 L1022,1128 L957.8,1110.9 L955,1111.8 L939.1,1110.5 Z" class="w"/>
<path d="M942,1101 L950,1101.5 L950,1106.5 L942,1106 Z"/>
<line x1="957.8" y1="1100.2" x2="957.8" y2="1110.9"/>
<line x1="962.0" y1="1101.5" x2="962.0" y2="1112.0"/>
<path d="M1005,1111.5 L1005,1116 L1030.7,1122 L1030.7,1131.3"/>
<path d="M1020,1115 L1020,1118.5"/>
<path d="M1062.7,1128.5 L1062.7,1136.7 M1062.7,1128.5 L1076,1128"/>
<path d="M1047,1123 Q1055,1128 1062.7,1128.5"/>
<circle cx="995.1" cy="1117.1" r="1.0" class="k"/>
<path d="M718.9,1347.8 Q724,1342 731,1342.5 Q738.5,1343.5 743.9,1349.4 L836.7,1349.4 A8.1,8.1 0 0 1 837.8,1365.6 L745.6,1365.6 Q738,1373.5 730.6,1373.3 Q719,1372 715.6,1362.8 L728.3,1364.4 Q734.5,1362 735,1357.8 Q734.5,1353 728.9,1352.2 Z" class="w"/>
<ellipse cx="835.0" cy="1357.6" rx="3.5" ry="3.5" class="w"/>
<polyline points="288.7,510.7 333.3,492.0" class="ax"/>
<polyline points="458.0,490.0 458.0,550.0" class="ax"/>
<polyline points="487.0,520.0 560.0,544.0" class="ax"/>
<polyline points="446.0,1368.0 446.0,1432.0" class="ax"/>
<polyline points="448.8,836.0 448.8,862.0" class="ax"/>
<polyline points="700.0,960.8 945.0,1028.4" class="ax"/>
<line x1="449.0" y1="1062.0" x2="447.0" y2="1112.0" class="t"/>
<line x1="449.8" y1="706.0" x2="449.8" y2="730.0" class="t"/>
<line x1="446.5" y1="1248.0" x2="446.2" y2="1293.0" class="t"/>
<line x1="447.5" y1="1020.0" x2="447.5" y2="1040.0" class="t"/>
<line x1="447.0" y1="1134.0" x2="447.0" y2="1150.0" class="t"/>
<line x1="280.8" y1="353.3" x2="239.2" y2="527.5" class="t"/>
<line x1="339.7" y1="361.7" x2="323.0" y2="456.7" class="t"/>
<line x1="405.3" y1="382.5" x2="407.5" y2="436.7" class="t"/>
<line x1="436.7" y1="391.7" x2="435.5" y2="470.5" class="t"/>
<line x1="465.7" y1="400.3" x2="460.0" y2="454.0" class="t"/>
<line x1="507.3" y1="412.0" x2="462.5" y2="481.7" class="t"/>
<line x1="541.7" y1="421.3" x2="498.3" y2="476.7" class="t"/>
<line x1="579.5" y1="433.0" x2="539.4" y2="501.7" class="t"/>
<line x1="615.5" y1="443.3" x2="576.8" y2="520.0" class="t"/>
<line x1="648.9" y1="453.4" x2="590.6" y2="543.6" class="t"/>
<line x1="680.0" y1="461.3" x2="620.8" y2="549.3" class="t"/>
<line x1="711.7" y1="470.0" x2="646.7" y2="554.2" class="t"/>
<line x1="798.3" y1="416.7" x2="693.3" y2="564.2" class="t"/>
<line x1="824.2" y1="505.0" x2="777.5" y2="592.5" class="t"/>
<line x1="894.7" y1="525.8" x2="857.5" y2="620.0" class="t"/>
<line x1="930.8" y1="535.3" x2="893.7" y2="626.7" class="t"/>
<line x1="964.7" y1="543.3" x2="924.2" y2="635.8" class="t"/>
<line x1="1015.3" y1="556.7" x2="985.0" y2="623.3" class="t"/>
<line x1="1105.8" y1="583.3" x2="1074.2" y2="677.5" class="t"/>
<line x1="1177.5" y1="604.2" x2="1160.0" y2="669.2" class="t"/>
<line x1="340.5" y1="568.3" x2="455.0" y2="568.3" class="t"/>
<line x1="340.5" y1="598.5" x2="443.3" y2="598.5" class="t"/>
<line x1="340.5" y1="622.5" x2="443.3" y2="614.2" class="t"/>
<line x1="340.5" y1="653.3" x2="444.2" y2="629.7" class="t"/>
<line x1="340.5" y1="682.5" x2="434.2" y2="655.8" class="t"/>
<line x1="340.5" y1="712.5" x2="440.0" y2="701.3" class="t"/>
<line x1="340.5" y1="742.8" x2="428.3" y2="742.8" class="t"/>
<line x1="340.5" y1="779.2" x2="417.5" y2="779.2" class="t"/>
<line x1="249.2" y1="834.2" x2="435.0" y2="816.7" class="t"/>
<line x1="340.5" y1="884.7" x2="417.5" y2="884.7" class="t"/>
<line x1="340.5" y1="932.5" x2="425.0" y2="932.5" class="t"/>
<line x1="340.5" y1="968.0" x2="429.0" y2="968.0" class="t"/>
<line x1="340.5" y1="1012.0" x2="444.0" y2="1012.0" class="t"/>
<line x1="340.5" y1="1038.8" x2="430.8" y2="1038.8" class="t"/>
<line x1="340.5" y1="1074.0" x2="425.8" y2="1074.0" class="t"/>
<line x1="340.5" y1="1113.3" x2="444.4" y2="1113.3" class="t"/>
<line x1="340.5" y1="1137.8" x2="444.4" y2="1127.3" class="t"/>
<line x1="340.5" y1="1160.7" x2="448.9" y2="1142.2" class="t"/>
<line x1="340.5" y1="1182.9" x2="441.1" y2="1164.4" class="t"/>
<line x1="340.5" y1="1212.7" x2="440.0" y2="1208.2" class="t"/>
<line x1="471.0" y1="1189.6" x2="537.8" y2="1189.6" class="t"/>
<line x1="340.5" y1="1236.2" x2="445.6" y2="1236.2" class="t"/>
<line x1="340.5" y1="1267.8" x2="445.6" y2="1267.8" class="t"/>
<line x1="340.5" y1="1296.7" x2="448.9" y2="1296.7" class="t"/>
<line x1="340.5" y1="1354.9" x2="412.2" y2="1354.9" class="t"/>
<line x1="340.5" y1="1434.4" x2="387.1" y2="1434.4" class="t"/>
<line x1="715.3" y1="1295.8" x2="736.9" y2="1361.1" class="t"/>
<line x1="721.3" y1="811.7" x2="764.2" y2="1040.8" class="t"/>
<line x1="758.3" y1="821.7" x2="794.2" y2="961.7" class="t"/>
<line x1="789.2" y1="831.7" x2="810.8" y2="1052.5" class="t"/>
<line x1="824.2" y1="840.0" x2="864.2" y2="953.3" class="t"/>
<line x1="859.2" y1="850.8" x2="886.7" y2="955.8" class="t"/>
<line x1="891.3" y1="860.0" x2="899.2" y2="900.0" class="t"/>
<line x1="922.5" y1="870.8" x2="912.0" y2="900.8" class="t"/>
<line x1="956.7" y1="880.0" x2="915.0" y2="934.2" class="t"/>
<line x1="1022.5" y1="824.7" x2="945.0" y2="951.7" class="t"/>
<line x1="1092.0" y1="835.8" x2="1010.0" y2="951.7" class="t"/>
<line x1="1010.0" y1="894.7" x2="977.0" y2="944.2" class="t"/>
<line x1="1070.8" y1="912.5" x2="996.7" y2="996.7" class="t"/>
<line x1="1113.8" y1="925.8" x2="1062.5" y2="997.5" class="t"/>
<line x1="1153.3" y1="936.7" x2="1080.8" y2="1040.0" class="t"/>
<line x1="1206.7" y1="952.5" x2="1147.5" y2="1077.5" class="t"/>
<line x1="1256.7" y1="966.7" x2="1193.3" y2="1082.5" class="t"/>
<line x1="1317.3" y1="984.0" x2="1250.7" y2="1126.0" class="t"/>
<line x1="1411.3" y1="1010.7" x2="1384.0" y2="1152.7" class="t"/>
<line x1="1009.3" y1="1196.2" x2="995.1" y2="1117.1" class="t"/>
<line x1="932.9" y1="1169.6" x2="902.7" y2="1084.2" class="t"/>
<line x1="897.3" y1="1157.1" x2="884.0" y2="1079.8" class="t"/>
<line x1="836.9" y1="1135.8" x2="839.2" y2="1096.7" class="t"/>
<circle cx="239.2" cy="527.5" r="1.2" class="k"/>
<circle cx="323.0" cy="456.7" r="1.2" class="k"/>
<circle cx="810.8" cy="1052.5" r="1.2" class="k"/>
<circle cx="864.2" cy="953.3" r="1.2" class="k"/>
<circle cx="996.7" cy="996.7" r="1.2" class="k"/>
<circle cx="1062.5" cy="997.5" r="1.2" class="k"/>
<circle cx="1080.8" cy="1040.0" r="1.2" class="k"/>
<circle cx="995.1" cy="1117.1" r="1.2" class="k"/>
<circle cx="1250.7" cy="1126.0" r="1.2" class="k"/>
<circle cx="412.2" cy="1354.9" r="1.2" class="k"/>
<circle cx="387.1" cy="1434.4" r="1.2" class="k"/>
<circle cx="417.5" cy="884.7" r="1.2" class="k"/>
<circle cx="1029.7" cy="810.8" r="15.2"/>
</g>
<g id="lb">
<use href="#g2" x="272.5" y="332.5"/><use href="#g7" x="284.3" y="332.5"/>
<use href="#g2" x="330.3" y="341.0"/><use href="#g8" x="342.1" y="341.0"/>
<use href="#g2" x="393.3" y="362.5"/><use href="#g9" x="405.1" y="362.5"/>
<use href="#g3" x="427.7" y="371.3"/><use href="#g0" x="439.5" y="371.3"/>
<use href="#g3" x="458.3" y="379.3"/><use href="#g1" x="470.1" y="379.3"/>
<use href="#g3" x="504.0" y="393.0"/><use href="#g2" x="515.8" y="393.0"/>
<use href="#g3" x="540.0" y="403.0"/><use href="#g3" x="551.8" y="403.0"/>
<use href="#g3" x="575.8" y="414.2"/><use href="#g4" x="587.6" y="414.2"/>
<use href="#g3" x="610.8" y="423.3"/><use href="#g5" x="622.6" y="423.3"/>
<use href="#g3" x="645.3" y="434.7"/><use href="#g6" x="657.1" y="434.7"/>
<use href="#g3" x="676.7" y="442.5"/><use href="#g7" x="688.5" y="442.5"/>
<use href="#g3" x="708.3" y="451.7"/><use href="#g8" x="720.1" y="451.7"/>
<use href="#g6" x="790.0" y="401.3"/><use href="#g8" x="801.8" y="401.3"/>
<use href="#g3" x="819.5" y="485.8"/><use href="#g9" x="831.3" y="485.8"/>
<use href="#g4" x="890.0" y="505.3"/><use href="#g0" x="902.2" y="505.3"/>
<use href="#g4" x="927.5" y="515.3"/><use href="#g1" x="939.7" y="515.3"/>
<use href="#g4" x="960.0" y="523.7"/><use href="#g2" x="972.2" y="523.7"/>
<use href="#g4" x="1010.0" y="536.7"/><use href="#g3" x="1022.2" y="536.7"/>
<use href="#g4" x="1099.0" y="563.2"/><use href="#g4" x="1111.2" y="563.2"/>
<use href="#g4" x="1170.8" y="583.3"/><use href="#g5" x="1183.0" y="583.3"/>
<use href="#g2" x="316.7" y="560.8"/><use href="#g6" x="328.5" y="560.8"/>
<use href="#g2" x="316.7" y="590.8"/><use href="#g5" x="328.5" y="590.8"/>
<use href="#g2" x="316.7" y="616.7"/><use href="#g4" x="328.5" y="616.7"/>
<use href="#g2" x="316.7" y="648.3"/><use href="#g3" x="328.5" y="648.3"/>
<use href="#g2" x="316.7" y="677.5"/><use href="#g2" x="328.5" y="677.5"/>
<use href="#g2" x="318.3" y="706.7"/><use href="#g1" x="330.1" y="706.7"/>
<use href="#g2" x="317.5" y="735.0"/><use href="#g0" x="329.3" y="735.0"/>
<use href="#g1" x="318.3" y="771.7"/><use href="#g8" x="325.7" y="771.7"/>
<use href="#g7" x="226.7" y="827.5"/><use href="#g0" x="238.5" y="827.5"/>
<use href="#g1" x="318.3" y="877.5"/><use href="#g7" x="325.7" y="877.5"/>
<use href="#g1" x="318.3" y="925.0"/><use href="#g6" x="325.7" y="925.0"/>
<use href="#g1" x="318.3" y="960.8"/><use href="#g5" x="325.7" y="960.8"/>
<use href="#g1" x="318.3" y="1005.0"/><use href="#g4" x="325.7" y="1005.0"/>
<use href="#g1" x="318.3" y="1031.7"/><use href="#g3" x="325.7" y="1031.7"/>
<use href="#g1" x="318.3" y="1067.5"/><use href="#g2" x="325.7" y="1067.5"/>
<use href="#g1" x="321.0" y="1106.0"/><use href="#g1" x="328.4" y="1106.0"/>
<use href="#g1" x="320.0" y="1131.0"/><use href="#g0" x="327.4" y="1131.0"/>
<use href="#g9" x="322.7" y="1154.4"/>
<use href="#g8" x="322.7" y="1176.7"/>
<use href="#g7" x="322.7" y="1205.6"/>
<use href="#g6" x="541.1" y="1182.2"/><use href="#g6" x="552.9" y="1182.2"/>
<use href="#g6" x="322.7" y="1228.9"/>
<use href="#g5" x="322.7" y="1260.7"/>
<use href="#g3" x="322.7" y="1288.9"/>
<use href="#g2" x="322.7" y="1347.8"/>
<use href="#g1" x="324.4" y="1427.3"/>
<use href="#g6" x="700.0" y="1275.6"/><use href="#g7" x="711.8" y="1275.6"/>
<use href="#g4" x="708.3" y="791.7"/><use href="#g6" x="720.5" y="791.7"/>
<use href="#g4" x="744.7" y="801.7"/><use href="#g7" x="756.9" y="801.7"/>
<use href="#g4" x="777.5" y="810.8"/><use href="#g8" x="789.7" y="810.8"/>
<use href="#g4" x="809.2" y="820.0"/><use href="#g9" x="821.4" y="820.0"/>
<use href="#g5" x="845.8" y="830.3"/><use href="#g0" x="857.6" y="830.3"/>
<use href="#g5" x="880.0" y="840.0"/><use href="#g1" x="891.8" y="840.0"/>
<use href="#g5" x="915.8" y="850.8"/><use href="#g2" x="927.6" y="850.8"/>
<use href="#g5" x="953.7" y="861.7"/><use href="#g3" x="965.5" y="861.7"/>
<use href="#g5" x="1006.3" y="876.3"/><use href="#g4" x="1018.1" y="876.3"/>
<use href="#g5" x="1068.0" y="894.2"/><use href="#g5" x="1079.8" y="894.2"/>
<use href="#g5" x="1110.8" y="905.8"/><use href="#g6" x="1122.6" y="905.8"/>
<use href="#g5" x="1150.0" y="917.5"/><use href="#g7" x="1161.8" y="917.5"/>
<use href="#g6" x="1088.3" y="817.5"/><use href="#g9" x="1100.1" y="817.5"/>
<use href="#g5" x="1202.0" y="932.0"/><use href="#g8" x="1213.8" y="932.0"/>
<use href="#g5" x="1252.0" y="946.3"/><use href="#g9" x="1263.8" y="946.3"/>
<use href="#g6" x="1312.7" y="963.3"/><use href="#g0" x="1324.5" y="963.3"/>
<use href="#g6" x="1404.7" y="990.7"/><use href="#g1" x="1416.5" y="990.7"/>
<use href="#g6" x="1000.8" y="1201.6"/><use href="#g2" x="1012.6" y="1201.6"/>
<use href="#g6" x="926.1" y="1174.9"/><use href="#g3" x="937.9" y="1174.9"/>
<use href="#g6" x="888.8" y="1162.4"/><use href="#g4" x="900.6" y="1162.4"/>
<use href="#g6" x="824.4" y="1140.2"/><use href="#g5" x="836.2" y="1140.2"/>
<use href="#g5" x="1019.5" y="803.0"/><use href="#g2" x="1031.3" y="803.0"/>
</g>
<g id="brand"><path d="M1368.7,1318 L1379,1328.9 H1349 Q1344.3,1328.9 1344.3,1333.5 V1340.2 Q1344.3,1344.8 1349,1344.8 H1379 L1368.7,1355.9 H1347 Q1333,1355.9 1333,1342 V1332 Q1333,1318 1347,1318 Z" fill="#141a26"/>
<path d="M1384.3,1318 H1399.7 L1418.3,1337 L1399.7,1355.9 H1384.3 L1402.7,1337 Z" fill="#141a26"/>
<path d="M1419,1321 L1421.5,1318 H1437.7 L1426.5,1329 Z" fill="#67b52e"/>
<path d="M1419,1352.8 L1426.3,1345 L1437.7,1355.9 H1421.5 Z" fill="#67b52e"/>
<path d="M1479.1,1318.2 L1481.3,1324 H1465.7 Q1462.7,1324 1462.7,1327 V1331.8 Q1462.7,1334.8 1465.7,1334.8 H1481.3 L1479.1,1340.1 H1464.2 Q1457.2,1340.1 1457.2,1333.1 V1325.2 Q1457.2,1318.2 1464.2,1318.2 Z" fill="#141a26"/>
<path d="M1494.7,1318.2 L1503.3,1318.2 L1515.8,1340.1 L1507.6,1340.1 L1505.6,1336.2 L1492.4,1336.2 L1490.4,1340.1 L1482.2,1340.1 Z M1499.0,1324.3 L1503.2,1331.0 L1494.8,1331.0 Z" fill="#141a26" fill-rule="evenodd"/>
<path d="M1518.3,1318.2 H1541 Q1547.7,1318.2 1547.7,1324.6 V1326.6 Q1547.7,1332.4 1542.5,1333.2 L1546.9,1340.1 H1539.7 L1535.2,1333.2 H1523.8 V1340.1 H1518.3 Z M1523.8,1324.3 H1540.2 Q1541.9,1324.3 1541.9,1325.9 Q1541.9,1327.6 1540.2,1327.6 H1523.8 Z" fill="#141a26" fill-rule="evenodd"/>
<path d="M1551.2,1324.3 L1556.7,1318.3 V1339.9 H1551.2 Z" fill="#141a26"/>
<path d="M1590.3,1318.2 L1585,1323.7 H1567.3 Q1565.8,1323.7 1565.8,1325.1 Q1565.8,1326.5 1567.3,1326.5 H1584.3 Q1590.8,1326.5 1590.8,1333.1 Q1590.8,1339.8 1584.3,1339.8 H1561 L1566.3,1334.3 H1583.6 Q1585,1334.3 1585,1333.2 Q1585,1332.2 1583.6,1332.2 H1567.2 Q1560.7,1332.2 1560.7,1325.2 Q1560.7,1318.2 1567.2,1318.2 Z" fill="#141a26" fill-rule="evenodd"/>
<path d="M1594.4,1318.2 H1600 L1610.2,1330.4 L1620.7,1318.2 H1626.2 V1340.2 H1620.7 V1328.7 L1610.2,1340.2 L1599.8,1328.7 V1340.2 H1594.4 Z" fill="#141a26"/>
<path d="M1641.7,1318.2 L1650.3,1318.2 L1662.8,1340.1 L1654.6,1340.1 L1652.6,1336.2 L1639.4,1336.2 L1637.4,1340.1 L1629.2,1340.1 Z M1646.0,1324.3 L1650.2,1331.0 L1641.8,1331.0 Z" fill="#141a26" fill-rule="evenodd"/>
<path d="M1657.4,1318.2 H1687.7 L1682.6,1323.6 H1674.8 V1340.2 H1669.4 V1323.6 H1657.4 Z" fill="#141a26"/>
<path d="M1691,1323.6 L1696.8,1318 V1340.2 H1691 Z" fill="#141a26"/>
<path d="M1700.1,1318.2 H1707.9 L1718.8,1329.1 L1707.9,1340.2 H1700.1 L1710.8,1329.1 Z" fill="#141a26"/>
<path d="M1719.4,1320.7 L1721.7,1318.2 H1729.7 L1723.2,1324.4 Z" fill="#67b52e"/>
<path d="M1719.4,1337.6 L1723.2,1334 L1729.4,1339.8 L1729.2,1340.2 H1721.7 Z" fill="#67b52e"/>
<text x="1456.8" y="1355.8" font-family="Liberation Sans, sans-serif" font-size="10.9" fill="#141a26" textLength="81" lengthAdjust="spacingAndGlyphs" stroke="#141a26" stroke-width="0.25">DETAILING</text>
<text x="1542" y="1355.8" font-family="Liberation Sans, sans-serif" font-size="10.9" fill="#67b52e" textLength="10" lengthAdjust="spacingAndGlyphs" stroke="#67b52e" stroke-width="0.25">&amp;</text>
<text x="1558" y="1355.8" font-family="Liberation Sans, sans-serif" font-size="10.9" fill="#141a26" textLength="172" lengthAdjust="spacingAndGlyphs" stroke="#141a26" stroke-width="0.25">REFINISH SOLUTIONS</text>
<rect x="1475" y="1190" width="255" height="105" fill="#67b52e"/>
<text x="1496.5" y="1235" font-family="Liberation Sans, sans-serif" font-weight="bold" font-size="26.8" fill="#fff" stroke="#fff" stroke-width="0.8" textLength="157" lengthAdjust="spacingAndGlyphs">SHINEMATE</text>
<text x="1497.5" y="1269" font-family="Liberation Sans, sans-serif" font-weight="bold" font-size="34.3" fill="#fff" stroke="#fff" stroke-width="1.1" textLength="148" lengthAdjust="spacingAndGlyphs">ERO600</text>
<text x="1616.5" y="1384.2" font-family="Liberation Sans, sans-serif" font-weight="bold" font-size="12.6" fill="#0d0d0d" textLength="113.5" lengthAdjust="spacingAndGlyphs">CARISMATIX SRL</text>
<text x="1575" y="1405" font-family="Liberation Sans, sans-serif" font-size="13.2" fill="#1c1c1c" textLength="155.0" lengthAdjust="spacingAndGlyphs">Via dei Laghi, 24 - 36077</text>
<text x="1590.5" y="1420.3" font-family="Liberation Sans, sans-serif" font-size="13.2" fill="#1c1c1c" textLength="139.5" lengthAdjust="spacingAndGlyphs">Altavilla Vicentina (VI)</text>
<text x="1609.5" y="1435.6" font-family="Liberation Sans, sans-serif" font-size="13.2" fill="#1c1c1c" textLength="120.5" lengthAdjust="spacingAndGlyphs">P.IVA 04201310242</text>
<text x="1612" y="1451" font-family="Liberation Sans, sans-serif" font-size="13.2" fill="#1c1c1c" textLength="118.0" lengthAdjust="spacingAndGlyphs">info@carismatix.it</text>
<text x="1614" y="1466.4" font-family="Liberation Sans, sans-serif" font-size="13.2" fill="#1c1c1c" textLength="116.0" lengthAdjust="spacingAndGlyphs">+39 0444 1323970</text></g>
</svg>

</body></html>
